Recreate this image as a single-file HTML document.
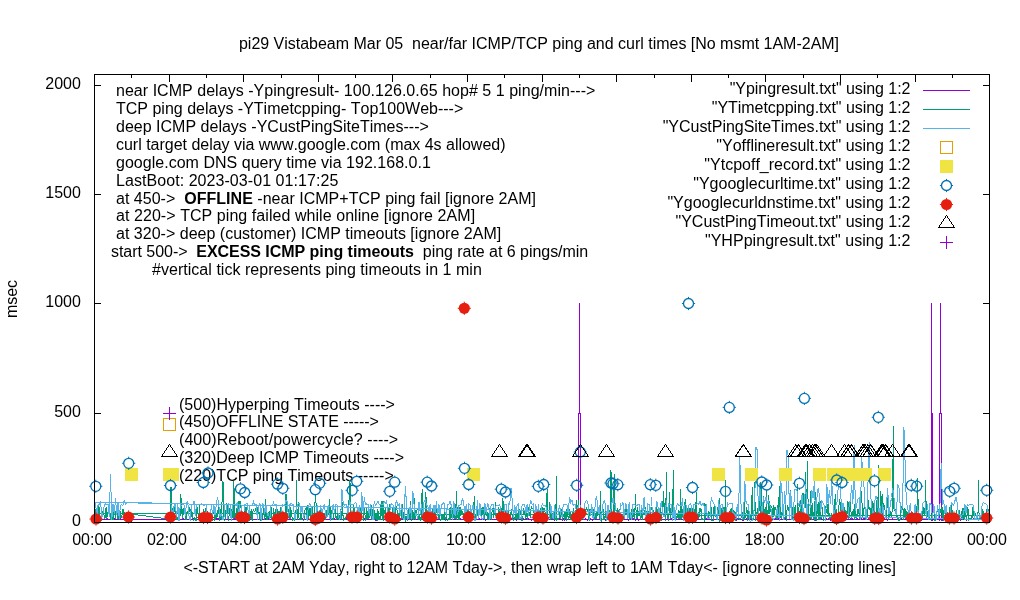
<!DOCTYPE html>
<html><head><meta charset="utf-8"><title>plot</title>
<style>html,body{margin:0;padding:0;background:#fff}svg{display:block;will-change:transform}text{font-family:"Liberation Sans",sans-serif;font-kerning:none;font-variant-ligatures:none}</style>
</head><body>
<svg width="1020" height="600" viewBox="0 0 1020 600" font-family="Liberation Sans, sans-serif" font-size="16" fill="#000">
<rect width="1020" height="600" fill="#fff"/>
<text id="t1" x="539" y="49" text-anchor="middle" textLength="600.09" xml:space="preserve">pi29 Vistabeam Mar 05 &#160;near/far ICMP/TCP ping and curl times [No msmt 1AM-2AM]</text>
<text id="t2" x="116" y="96" text-anchor="start" textLength="479.36" xml:space="preserve">near ICMP delays -Ypingresult- 100.126.0.65 hop# 5 1 ping/min---&gt;</text>
<text id="t3" x="116" y="114" text-anchor="start" xml:space="preserve">TCP ping delays -YTimetcpping- Top100Web---&gt;</text>
<text id="t4" x="116" y="132" text-anchor="start" textLength="312.86" xml:space="preserve">deep ICMP delays -YCustPingSiteTimes---&gt;</text>
<text id="t5" x="116" y="150" text-anchor="start" textLength="389.49" xml:space="preserve">curl target delay via www.google.com (max 4s allowed)</text>
<text id="t6" x="116" y="168" text-anchor="start" textLength="314.85" xml:space="preserve">google.com DNS query time via 192.168.0.1</text>
<text id="t7" x="116" y="186" text-anchor="start" textLength="222.32" xml:space="preserve">LastBoot: 2023-03-01 01:17:25</text>
<text id="t8" x="116" y="204" text-anchor="start" textLength="419.93" xml:space="preserve">at 450-&gt; &#160;<tspan font-weight="bold">OFFLINE</tspan> -near ICMP+TCP ping fail [ignore 2AM]</text>
<text id="t9" x="116" y="221" text-anchor="start" textLength="359.10" xml:space="preserve">at 220-&gt; TCP ping failed while online [ignore 2AM]</text>
<text id="t10" x="116" y="239" text-anchor="start" textLength="385.21" xml:space="preserve">at 320-&gt; deep (customer) ICMP timeouts [ignore 2AM]</text>
<text id="t11" x="111" y="257" text-anchor="start" textLength="477.23" xml:space="preserve">start 500-&gt; &#160;<tspan font-weight="bold">EXCESS ICMP ping timeouts</tspan> &#160;ping rate at 6 pings/min</text>
<text id="t12" x="152" y="275" text-anchor="start" textLength="329.84" xml:space="preserve">#vertical tick represents ping timeouts in 1 min</text>
<text id="t13" x="179" y="410" text-anchor="start" textLength="215.93" xml:space="preserve">(500)Hyperping Timeouts ----&gt;</text>
<text id="t14" x="179" y="427" text-anchor="start" textLength="199.96" xml:space="preserve">(450)OFFLINE STATE -----&gt;</text>
<text id="t15" x="179" y="445" text-anchor="start" textLength="219.12" xml:space="preserve">(400)Reboot/powercycle? ----&gt;</text>
<text id="t16" x="179" y="463" text-anchor="start" textLength="224.99" xml:space="preserve">(320)Deep ICMP Timeouts ----&gt;</text>
<text id="t17" x="179" y="481" text-anchor="start" textLength="214.73" xml:space="preserve">(220)TCP ping Timeouts -----&gt;</text>
<text id="t18" x="92.2" y="545" text-anchor="middle" >00:00</text>
<text id="t19" x="167.0" y="545" text-anchor="middle" >02:00</text>
<text id="t20" x="241.0" y="545" text-anchor="middle" >04:00</text>
<text id="t21" x="315.8" y="545" text-anchor="middle" >06:00</text>
<text id="t22" x="390.2" y="545" text-anchor="middle" >08:00</text>
<text id="t23" x="465.9" y="545" text-anchor="middle" >10:00</text>
<text id="t24" x="541.1" y="545" text-anchor="middle" >12:00</text>
<text id="t25" x="615.0" y="545" text-anchor="middle" >14:00</text>
<text id="t26" x="690.2" y="545" text-anchor="middle" >16:00</text>
<text id="t27" x="764.4" y="545" text-anchor="middle" >18:00</text>
<text id="t28" x="839.0" y="545" text-anchor="middle" >20:00</text>
<text id="t29" x="912.9" y="545" text-anchor="middle" >22:00</text>
<text id="t30" x="986.9" y="545" text-anchor="middle" >00:00</text>
<text id="t31" x="80.9" y="525.8" text-anchor="end" >0</text>
<text id="t32" x="80.9" y="417.0" text-anchor="end" >500</text>
<text id="t33" x="80.9" y="307.0" text-anchor="end" >1000</text>
<text id="t34" x="80.9" y="198.1" text-anchor="end" >1500</text>
<text id="t35" x="80.9" y="88.9" text-anchor="end" >2000</text>
<text transform="translate(17.2,299) rotate(-90)" text-anchor="middle">msec</text>
<text id="t36" x="183.5" y="573" text-anchor="start" textLength="323.2" >&lt;-START at 2AM Yday, right to 12AM Tday-&gt;,</text>
<text id="t37" x="510.9" y="573" text-anchor="start" textLength="385" >then wrap left to 1AM Tday&lt;- [ignore connecting lines]</text>
<text id="t38" x="910.5" y="94" text-anchor="end" textLength="180.82" >"Ypingresult.txt" using 1:2</text>
<text id="t39" x="910.5" y="113" text-anchor="end" textLength="198.71" >"YTimetcpping.txt" using 1:2</text>
<text id="t40" x="910.5" y="132" text-anchor="end" textLength="247.80" >"YCustPingSiteTimes.txt" using 1:2</text>
<text id="t41" x="910.5" y="151" text-anchor="end" textLength="194.18" >"Yofflineresult.txt" using 1:2</text>
<text id="t42" x="910.5" y="170" text-anchor="end" >"Ytcpoff_record.txt" using 1:2</text>
<text id="t43" x="910.5" y="189" text-anchor="end" textLength="217.31" >"Ygooglecurltime.txt" using 1:2</text>
<text id="t44" x="910.5" y="208" text-anchor="end" textLength="243.11" >"Ygooglecurldnstime.txt" using 1:2</text>
<text id="t45" x="910.5" y="227" text-anchor="end" textLength="234.97" >"YCustPingTimeout.txt" using 1:2</text>
<text id="t46" x="910.5" y="246" text-anchor="end" textLength="205.56" >"YHPpingresult.txt" using 1:2</text>
<g shape-rendering="crispEdges" fill="none" stroke="#000" stroke-width="1"><path d="M131.8 522.5v-3.5M131.8 74.5v3.5M169.1 522.5v-7M169.1 74.5v7M206.4 522.5v-3.5M206.4 74.5v3.5M243.7 522.5v-7M243.7 74.5v7M281.0 522.5v-3.5M281.0 74.5v3.5M318.3 522.5v-7M318.3 74.5v7M355.6 522.5v-3.5M355.6 74.5v3.5M392.9 522.5v-7M392.9 74.5v7M430.2 522.5v-3.5M430.2 74.5v3.5M467.5 522.5v-7M467.5 74.5v7M504.8 522.5v-3.5M504.8 74.5v3.5M542.1 522.5v-7M542.1 74.5v7M579.4 522.5v-3.5M579.4 74.5v3.5M616.7 522.5v-7M616.7 74.5v7M654.0 522.5v-3.5M654.0 74.5v3.5M691.3 522.5v-7M691.3 74.5v7M728.6 522.5v-3.5M728.6 74.5v3.5M765.9 522.5v-7M765.9 74.5v7M803.2 522.5v-3.5M803.2 74.5v3.5M840.5 522.5v-7M840.5 74.5v7M877.8 522.5v-3.5M877.8 74.5v3.5M915.1 522.5v-7M915.1 74.5v7M952.4 522.5v-3.5M952.4 74.5v3.5M94.5 413.5h6.5M989.5 413.5h-6.5M94.5 303.5h6.5M989.5 303.5h-6.5M94.5 194.5h6.5M989.5 194.5h-6.5M94.5 85.5h6.5M989.5 85.5h-6.5"/></g>
<g shape-rendering="crispEdges" fill="none" stroke-width="1">
<path d="M169.1 519.4L169.7 519.4L170.3 519.4L171.0 519.9L171.6 519.4L172.2 519.4L172.8 519.4L173.5 519.4L174.1 519.4L174.7 518.8L175.3 519.4L175.9 519.4L176.6 519.4L177.2 519.4L177.8 518.8L178.4 519.4L179.0 519.9L179.7 519.4L180.3 519.0L180.9 519.0L181.5 519.4L182.2 519.9L182.8 519.4L183.4 518.8L184.0 519.4L184.6 519.4L185.3 519.4L185.9 519.9L186.5 519.4L187.1 519.4L187.7 519.0L188.4 519.4L189.0 519.4L189.6 519.4L190.2 519.4L190.9 519.4L191.5 519.4L192.1 518.8L192.7 519.4L193.3 519.0L194.0 519.9L194.6 519.4L195.2 518.8L195.8 519.4L196.5 518.8L197.1 519.4L197.7 519.4L198.3 519.9L198.9 519.4L199.6 519.9L200.2 518.8L200.8 519.4L201.4 519.4L202.0 519.9L202.7 519.9L203.3 519.4L203.9 519.4L204.5 519.4L205.2 519.4L205.8 519.9L206.4 519.9L207.0 519.9L207.6 519.0L208.3 519.0L208.9 519.4L209.5 519.4L210.1 518.8L210.8 519.4L211.4 519.4L212.0 519.4L212.6 519.9L213.2 519.4L213.9 519.0L214.5 519.4L215.1 519.9L215.7 518.8L216.3 518.8L217.0 518.8L217.6 518.8L218.2 519.0L218.8 518.8L219.5 519.4L220.1 518.8L220.7 519.4L221.3 519.4L221.9 519.4L222.6 519.4L223.2 519.9L223.8 519.9L224.4 519.4L225.0 519.9L225.7 519.4L226.3 519.9L226.9 519.9L227.5 519.9L228.2 519.9L228.8 519.9L229.4 519.4L230.0 518.8L230.6 519.4L231.3 519.4L231.9 518.8L232.5 519.9L233.1 519.9L233.8 519.9L234.4 519.0L235.0 519.4L235.6 519.4L236.2 519.4L236.9 519.9L237.5 519.9L238.1 519.9L238.7 519.4L239.3 519.9L240.0 519.4L240.6 519.9L241.2 519.4L241.8 519.0L242.5 519.4L243.1 519.4L243.7 519.4L244.3 519.9L244.9 518.8L245.6 518.8L246.2 518.8L246.8 519.0L247.4 519.9L248.1 519.4L248.7 519.9L249.3 519.9L249.9 518.8L250.5 519.4L251.2 519.9L251.8 519.0L252.4 519.9L253.0 519.0L253.6 519.4L254.3 519.9L254.9 519.9L255.5 519.4L256.1 519.9L256.8 519.4L257.4 519.0L258.0 519.9L258.6 519.0L259.2 518.8L259.9 519.4L260.5 519.9L261.1 519.4L261.7 519.4L262.3 519.4L263.0 519.4L263.6 519.4L264.2 519.4L264.8 519.4L265.5 519.0L266.1 519.4L266.7 519.4L267.3 519.4L267.9 519.9L268.6 519.0L269.2 519.4L269.8 519.4L270.4 519.4L271.1 519.4L271.7 519.4L272.3 519.9L272.9 519.4L273.5 519.4L274.2 518.8L274.8 519.9L275.4 519.9L276.0 519.4L276.6 519.4L277.3 519.4L277.9 519.0L278.5 519.4L279.1 519.4L279.8 519.4L280.4 519.4L281.0 519.4L281.6 519.4L282.2 519.4L282.9 519.9L283.5 519.4L284.1 519.4L284.7 518.8L285.4 519.4L286.0 519.4L286.6 519.4L287.2 519.4L287.8 519.9L288.5 519.4L289.1 519.9L289.7 519.4L290.3 519.9L290.9 519.9L291.6 519.9L292.2 519.9L292.8 519.0L293.4 518.8L294.1 519.4L294.7 518.8L295.3 519.4L295.9 519.4L296.5 519.4L297.2 519.4L297.8 519.4L298.4 519.9L299.0 519.4L299.6 518.8L300.3 519.4L300.9 518.8L301.5 519.4L302.1 518.8L302.8 518.8L303.4 519.4L304.0 519.9L304.6 519.9L305.2 519.4L305.9 519.4L306.5 519.4L307.1 518.8L307.7 519.4L308.4 519.9L309.0 519.4L309.6 519.4L310.2 519.4L310.8 519.9L311.5 519.9L312.1 519.4L312.7 519.9L313.3 519.9L313.9 519.9L314.6 518.8L315.2 519.4L315.8 519.9L316.4 519.9L317.1 519.4L317.7 519.0L318.3 519.4L318.9 519.4L319.5 519.9L320.2 519.9L320.8 519.0L321.4 519.9L322.0 519.4L322.7 518.8L323.3 519.0L323.9 519.4L324.5 518.8L325.1 519.4L325.8 519.4L326.4 519.9L327.0 519.4L327.6 519.9L328.2 519.0L328.9 519.9L329.5 519.4L330.1 519.4L330.7 519.4L331.4 519.4L332.0 519.9L332.6 519.0L333.2 519.4L333.8 519.9L334.5 518.8L335.1 519.0L335.7 519.4L336.3 518.8L336.9 519.9L337.6 519.4L338.2 519.4L338.8 518.8L339.4 519.0L340.1 519.4L340.7 519.4L341.3 519.0L341.9 519.0L342.5 519.9L343.2 519.4L343.8 519.9L344.4 519.0L345.0 518.8L345.7 519.9L346.3 519.9L346.9 518.8L347.5 519.4L348.1 519.4L348.8 519.4L349.4 519.0L350.0 519.4L350.6 519.4L351.2 519.9L351.9 519.9L352.5 519.4L353.1 519.0L353.7 519.4L354.4 518.8L355.0 518.8L355.6 519.4L356.2 519.4L356.8 519.4L357.5 519.4L358.1 519.4L358.7 518.8L359.3 518.8L360.0 519.4L360.6 519.0L361.2 519.9L361.8 519.4L362.4 519.4L363.1 519.4L363.7 519.4L364.3 519.0L364.9 519.9L365.5 519.4L366.2 519.4L366.8 519.4L367.4 518.8L368.0 519.4L368.7 519.0L369.3 519.0L369.9 519.4L370.5 519.4L371.1 519.4L371.8 519.0L372.4 519.4L373.0 519.9L373.6 518.8L374.2 519.4L374.9 519.4L375.5 519.9L376.1 518.8L376.7 519.9L377.4 519.4L378.0 519.9L378.6 519.4L379.2 518.8L379.8 518.8L380.5 519.4L381.1 519.0L381.7 519.4L382.3 519.4L383.0 519.9L383.6 519.9L384.2 519.4L384.8 519.4L385.4 518.8L386.1 518.8L386.7 518.8L387.3 519.0L387.9 519.9L388.5 519.4L389.2 518.8L389.8 519.9L390.4 519.4L391.0 519.9L391.7 519.4L392.3 519.9L392.9 519.9L393.5 519.4L394.1 519.4L394.8 518.8L395.4 519.0L396.0 519.9L396.6 519.9L397.3 519.4L397.9 519.9L398.5 519.4L399.1 519.9L399.7 519.4L400.4 518.8L401.0 519.4L401.6 519.0L402.2 518.8L402.8 519.9L403.5 519.9L404.1 518.8L404.7 519.4L405.3 519.4L406.0 519.9L406.6 519.4L407.2 519.4L407.8 519.0L408.4 519.0L409.1 519.4L409.7 519.4L410.3 519.9L410.9 519.4L411.6 519.4L412.2 519.4L412.8 519.4L413.4 519.4L414.0 519.4L414.7 519.4L415.3 519.0L415.9 519.4L416.5 519.4L417.1 519.4L417.8 519.0L418.4 519.4L419.0 519.9L419.6 519.4L420.3 519.0L420.9 519.9L421.5 519.4L422.1 519.9L422.7 519.9L423.4 519.4L424.0 519.4L424.6 519.4L425.2 519.4L425.8 519.4L426.5 519.4L427.1 519.4L427.7 519.4L428.3 519.0L429.0 519.9L429.6 519.9L430.2 519.9L430.8 519.4L431.4 519.4L432.1 519.9L432.7 519.4L433.3 519.0L433.9 519.4L434.6 519.9L435.2 519.9L435.8 519.4L436.4 519.4L437.0 519.4L437.7 519.9L438.3 519.9L438.9 519.4L439.5 519.9L440.1 519.9L440.8 519.4L441.4 519.9L442.0 519.9L442.6 519.0L443.3 519.4L443.9 519.4L444.5 519.4L445.1 519.4L445.7 519.4L446.4 519.4L447.0 519.4L447.6 519.4L448.2 519.0L448.9 519.4L449.5 518.8L450.1 519.9L450.7 518.8L451.3 519.4L452.0 519.4L452.6 519.4L453.2 519.9L453.8 519.4L454.4 519.4L455.1 519.4L455.7 519.4L456.3 519.9L456.9 519.4L457.6 519.4L458.2 518.8L458.8 519.9L459.4 519.9L460.0 519.9L460.7 518.8L461.3 519.4L461.9 519.4L462.5 519.4L463.1 518.8L463.8 519.4L464.4 519.4L465.0 519.4L465.6 519.4L466.3 519.4L466.9 519.0L467.5 519.4L468.1 519.9L468.7 519.4L469.4 519.9L470.0 519.4L470.6 519.9L471.2 519.0L471.9 519.4L472.5 518.8L473.1 519.4L473.7 519.4L474.3 519.4L475.0 519.0L475.6 519.9L476.2 519.9L476.8 519.4L477.4 519.9L478.1 519.4L478.7 519.4L479.3 518.8L479.9 519.4L480.6 519.4L481.2 519.4L481.8 519.0L482.4 519.4L483.0 519.9L483.7 519.4L484.3 519.4L484.9 519.4L485.5 519.9L486.2 519.4L486.8 519.4L487.4 519.4L488.0 519.9L488.6 519.0L489.3 518.8L489.9 519.4L490.5 519.4L491.1 518.8L491.7 519.4L492.4 519.4L493.0 519.9L493.6 519.4L494.2 519.4L494.9 519.9L495.5 519.4L496.1 519.0L496.7 519.9L497.3 519.9L498.0 519.4L498.6 519.0L499.2 519.9L499.8 519.4L500.4 519.4L501.1 519.9L501.7 519.9L502.3 519.9L502.9 519.4L503.6 519.4L504.2 519.4L504.8 519.4L505.4 519.4L506.0 519.4L506.7 519.0L507.3 519.4L507.9 519.9L508.5 518.8L509.2 519.0L509.8 519.4L510.4 519.4L511.0 518.8L511.6 518.8L512.3 519.0L512.9 519.4L513.5 518.8L514.1 519.4L514.7 519.4L515.4 519.4L516.0 518.8L516.6 519.9L517.2 519.4L517.9 519.4L518.5 519.4L519.1 519.4L519.7 519.4L520.3 519.4L521.0 519.9L521.6 519.4L522.2 519.4L522.8 519.4L523.5 519.0L524.1 519.9L524.7 519.4L525.3 519.9L525.9 519.9L526.6 519.0L527.2 519.4L527.8 518.8L528.4 518.8L529.0 519.4L529.7 519.4L530.3 519.4L530.9 519.4L531.5 519.9L532.2 519.4L532.8 519.4L533.4 519.0L534.0 519.4L534.6 519.4L535.3 519.9L535.9 519.4L536.5 519.4L537.1 519.4L537.7 519.4L538.4 519.4L539.0 519.9L539.6 519.4L540.2 519.0L540.9 519.9L541.5 518.8L542.1 519.4L542.7 519.0L543.3 519.4L544.0 518.8L544.6 519.9L545.2 519.4L545.8 519.9L546.5 519.9L547.1 519.4L547.7 519.0L548.3 519.4L548.9 519.4L549.6 519.9L550.2 519.9L550.8 519.4L551.4 519.4L552.0 519.0L552.7 519.0L553.3 519.4L553.9 518.8L554.5 519.9L555.2 518.8L555.8 519.4L556.4 519.9L557.0 519.0L557.6 519.0L558.3 519.9L558.9 519.4L559.5 519.0L560.1 518.8L560.8 519.9L561.4 519.4L562.0 518.8L562.6 519.9L563.2 519.0L563.9 518.8L564.5 519.9L565.1 519.4L565.7 519.9L566.3 519.4L567.0 519.4L567.6 519.9L568.2 519.0L568.8 519.9L569.5 519.4L570.1 519.0L570.7 519.4L571.3 519.9L571.9 519.9L572.6 519.9L573.2 519.4L573.8 519.9L574.4 519.0L575.0 519.4L575.7 519.9L576.3 519.9L576.9 518.8L577.5 519.4L578.2 519.4L578.8 518.8L579.4 519.4L580.0 519.9L580.6 519.4L581.3 519.0L581.9 518.8L582.5 519.4L583.1 519.4L583.8 519.9L584.4 519.9L585.0 518.8L585.6 519.0L586.2 519.9L586.9 519.4L587.5 519.9L588.1 519.4L588.7 519.4L589.3 519.4L590.0 519.9L590.6 519.0L591.2 519.4L591.8 519.4L592.5 519.9L593.1 519.4L593.7 519.4L594.3 519.4L594.9 519.9L595.6 519.9L596.2 519.4L596.8 519.4L597.4 519.9L598.1 519.4L598.7 519.4L599.3 519.0L599.9 518.8L600.5 519.9L601.2 519.0L601.8 519.4L602.4 519.9L603.0 519.9L603.6 519.4L604.3 519.9L604.9 519.4L605.5 519.9L606.1 519.4L606.8 519.9L607.4 519.9L608.0 519.4L608.6 519.4L609.2 519.4L609.9 519.4L610.5 519.4L611.1 519.4L611.7 519.0L612.3 519.4L613.0 519.4L613.6 519.4L614.2 519.4L614.8 518.8L615.5 519.9L616.1 519.4L616.7 519.4L617.3 519.9L617.9 519.4L618.6 518.8L619.2 519.4L619.8 519.4L620.4 519.4L621.1 518.8L621.7 519.0L622.3 519.9L622.9 519.9L623.5 519.4L624.2 519.4L624.8 519.4L625.4 519.9L626.0 519.9L626.6 519.4L627.3 519.9L627.9 519.4L628.5 519.9L629.1 519.4L629.8 519.9L630.4 519.4L631.0 519.0L631.6 519.0L632.2 518.8L632.9 518.8L633.5 518.8L634.1 519.4L634.7 519.4L635.4 519.9L636.0 518.8L636.6 519.4L637.2 519.4L637.8 518.8L638.5 519.9L639.1 519.4L639.7 519.4L640.3 519.0L640.9 518.8L641.6 519.4L642.2 519.0L642.8 518.8L643.4 519.4L644.1 519.4L644.7 519.4L645.3 519.4L645.9 519.4L646.5 519.4L647.2 519.9L647.8 519.4L648.4 519.9L649.0 519.9L649.6 518.8L650.3 519.0L650.9 519.9L651.5 519.9L652.1 519.4L652.8 519.4L653.4 518.8L654.0 519.4L654.6 519.9L655.2 519.0L655.9 519.4L656.5 519.4L657.1 519.9L657.7 519.9L658.4 519.9L659.0 519.0L659.6 519.0L660.2 519.4L660.8 519.9L661.5 519.4L662.1 519.9L662.7 519.9L663.3 519.4L663.9 519.9L664.6 519.4L665.2 519.9L665.8 519.4L666.4 519.9L667.1 519.4L667.7 519.9L668.3 519.4L668.9 519.9L669.5 519.4L670.2 519.4L670.8 519.4L671.4 518.8L672.0 519.9L672.7 519.9L673.3 519.0L673.9 519.4L674.5 519.4L675.1 518.8L675.8 519.4L676.4 519.9L677.0 519.4L677.6 519.4L678.2 519.9L678.9 519.4L679.5 519.9L680.1 519.9L680.7 519.4L681.4 518.8L682.0 518.8L682.6 519.4L683.2 519.4L683.8 519.4L684.5 519.4L685.1 519.4L685.7 519.0L686.3 519.4L686.9 519.4L687.6 519.9L688.2 519.0L688.8 519.4L689.4 518.8L690.1 519.4L690.7 519.4L691.3 519.0L691.9 519.0L692.5 519.0L693.2 519.4L693.8 519.4L694.4 518.8L695.0 519.9L695.7 519.4L696.3 519.9L696.9 518.8L697.5 518.8L698.1 519.4L698.8 519.4L699.4 519.4L700.0 519.4L700.6 519.4L701.2 519.4L701.9 519.0L702.5 519.4L703.1 519.4L703.7 519.4L704.4 519.4L705.0 519.4L705.6 518.8L706.2 519.4L706.8 518.8L707.5 519.4L708.1 519.4L708.7 519.4L709.3 519.9L710.0 519.9L710.6 519.4L711.2 519.4L711.8 519.9L712.4 519.9L713.1 519.4L713.7 519.4L714.3 519.4L714.9 519.4L715.5 519.4L716.2 519.4L716.8 519.0L717.4 519.0L718.0 519.0L718.7 519.4L719.3 519.4L719.9 518.8L720.5 519.0L721.1 519.4L721.8 519.4L722.4 519.0L723.0 519.4L723.6 519.0L724.2 519.4L724.9 518.8L725.5 519.4L726.1 519.9L726.7 518.8L727.4 519.9L728.0 518.8L728.6 519.4L729.2 519.4L729.8 519.0L730.5 519.0L731.1 519.4L731.7 519.4L732.3 519.0L733.0 519.9L733.6 519.4L734.2 519.4L734.8 519.4L735.4 519.4L736.1 518.8L736.7 519.9L737.3 518.8L737.9 519.9L738.5 518.8L739.2 519.4L739.8 519.9L740.4 519.9L741.0 519.4L741.7 519.4L742.3 519.9L742.9 518.8L743.5 519.9L744.1 519.4L744.8 519.4L745.4 519.9L746.0 519.4L746.6 518.8L747.3 519.4L747.9 519.4L748.5 519.4L749.1 519.9L749.7 519.4L750.4 519.0L751.0 519.0L751.6 519.9L752.2 519.4L752.8 518.8L753.5 519.0L754.1 519.9L754.7 519.4L755.3 519.9L756.0 519.9L756.6 519.4L757.2 519.0L757.8 519.0L758.4 519.4L759.1 519.4L759.7 519.4L760.3 519.0L760.9 519.4L761.5 519.9L762.2 518.8L762.8 519.9L763.4 519.9L764.0 519.4L764.7 519.4L765.3 519.4L765.9 519.9L766.5 519.4L767.1 519.4L767.8 519.9L768.4 519.4L769.0 519.9L769.6 519.9L770.3 519.0L770.9 519.4L771.5 519.4L772.1 519.4L772.7 519.4L773.4 519.4L774.0 518.8L774.6 519.4L775.2 518.8L775.8 518.8L776.5 519.4L777.1 519.4L777.7 519.4L778.3 518.8L779.0 519.4L779.6 519.4L780.2 519.9L780.8 519.4L781.4 519.0L782.1 519.4L782.7 519.4L783.3 519.9L783.9 519.9L784.6 519.4L785.2 518.8L785.8 519.4L786.4 519.4L787.0 519.0L787.7 519.4L788.3 519.0L788.9 519.4L789.5 519.4L790.1 519.4L790.8 519.4L791.4 519.4L792.0 519.4L792.6 519.4L793.3 519.0L793.9 519.0L794.5 519.4L795.1 519.0L795.7 518.8L796.4 519.4L797.0 519.0L797.6 519.4L798.2 519.0L798.8 518.8L799.5 519.4L800.1 519.9L800.7 519.4L801.3 519.9L802.0 519.4L802.6 519.4L803.2 519.4L803.8 519.4L804.4 519.9L805.1 519.4L805.7 518.8L806.3 518.8L806.9 519.4L807.6 519.4L808.2 519.4L808.8 519.9L809.4 519.4L810.0 519.9L810.7 519.9L811.3 519.9L811.9 519.9L812.5 519.4L813.1 519.0L813.8 519.9L814.4 519.4L815.0 518.8L815.6 519.9L816.3 518.8L816.9 519.0L817.5 519.4L818.1 519.9L818.7 519.9L819.4 519.4L820.0 519.4L820.6 519.4L821.2 518.8L821.9 519.4L822.5 519.4L823.1 519.4L823.7 519.9L824.3 519.9L825.0 519.4L825.6 519.4L826.2 519.0L826.8 518.8L827.4 519.4L828.1 519.4L828.7 518.8L829.3 519.4L829.9 519.0L830.6 519.9L831.2 519.4L831.8 519.4L832.4 519.9L833.0 519.4L833.7 519.0L834.3 519.4L834.9 519.9L835.5 518.8L836.1 519.9L836.8 519.4L837.4 519.9L838.0 519.4L838.6 519.4L839.3 519.4L839.9 519.4L840.5 519.0L841.1 519.4L841.7 519.0L842.4 519.0L843.0 519.4L843.6 519.4L844.2 519.4L844.9 519.4L845.5 519.0L846.1 519.4L846.7 519.9L847.3 519.4L848.0 519.9L848.6 519.9L849.2 519.4L849.8 519.4L850.4 518.8L851.1 519.0L851.7 518.8L852.3 518.8L852.9 519.9L853.6 519.4L854.2 519.9L854.8 519.4L855.4 519.9L856.0 519.4L856.7 519.9L857.3 518.8L857.9 519.9L858.5 519.9L859.2 519.0L859.8 519.4L860.4 519.4L861.0 518.8L861.6 519.0L862.3 519.4L862.9 519.4L863.5 518.8L864.1 519.9L864.7 519.0L865.4 519.9L866.0 519.4L866.6 519.4L867.2 519.9L867.9 519.4L868.5 519.0L869.1 519.4L869.7 519.4L870.3 519.4L871.0 519.9L871.6 519.4L872.2 519.4L872.8 518.8L873.4 519.0L874.1 518.8L874.7 519.4L875.3 519.4L875.9 519.4L876.6 519.9L877.2 519.0L877.8 519.4L878.4 519.9L879.0 519.9L879.7 519.4L880.3 518.8L880.9 519.4L881.5 519.4L882.2 519.4L882.8 519.4L883.4 519.4L884.0 519.4L884.6 519.4L885.3 519.4L885.9 519.4L886.5 519.4L887.1 519.0L887.7 519.9L888.4 518.8L889.0 519.0L889.6 519.4L890.2 519.9L890.9 519.4L891.5 519.4L892.1 519.9L892.7 519.0L893.3 519.4L894.0 519.4L894.6 519.4L895.2 519.9L895.8 519.4L896.5 519.4L897.1 519.0L897.7 518.8L898.3 519.0L898.9 519.4L899.6 519.9L900.2 519.4L900.8 519.0L901.4 518.8L902.0 519.9L902.7 519.0L903.3 519.0L903.9 519.4L904.5 519.4L905.2 518.8L905.8 519.9L906.4 519.4L907.0 519.9L907.6 519.4L908.3 519.9L908.9 519.0L909.5 519.0L910.1 519.9L910.7 519.4L911.4 519.9L912.0 519.0L912.6 519.4L913.2 519.9L913.9 518.8L914.5 519.0L915.1 519.4L915.7 519.4L916.3 519.4L917.0 519.4L917.6 519.4L918.2 519.0L918.8 519.4L919.5 519.9L920.1 519.0L920.7 519.4L921.3 519.9L921.9 518.8L922.6 519.4L923.2 519.4L923.8 519.0L924.4 519.4L925.0 519.4L925.7 518.8L926.3 519.9L926.9 519.4L927.5 519.4L928.2 519.9L928.8 519.9L929.4 519.9L930.0 519.4L930.6 519.9L931.3 519.0L931.9 519.9L932.5 519.9L933.1 519.9L933.8 519.4L934.4 519.9L935.0 519.4L935.6 519.9L936.2 518.8L936.9 519.4L937.5 519.4L938.1 519.4L938.7 519.4L939.3 519.4L940.0 519.9L940.6 519.0L941.2 518.8L941.8 518.8L942.5 519.9L943.1 519.0L943.7 519.9L944.3 519.4L944.9 519.4L945.6 519.4L946.2 519.4L946.8 519.4L947.4 519.4L948.0 518.8L948.7 519.9L949.3 519.4L949.9 519.4L950.5 519.4L951.2 519.4L951.8 519.9L952.4 519.0L953.0 519.0L953.6 519.4L954.3 519.0L954.9 519.4L955.5 519.9L956.1 519.4L956.8 519.9L957.4 519.4L958.0 519.9L958.6 518.8L959.2 519.4L959.9 518.8L960.5 519.9L961.1 519.4L961.7 519.4L962.3 519.4L963.0 519.9L963.6 519.0L964.2 519.4L964.8 519.4L965.5 519.4L966.1 518.8L966.7 519.9L967.3 519.4L967.9 519.4L968.6 518.8L969.2 519.0L969.8 519.4L970.4 519.4L971.0 519.9L971.7 519.4L972.3 519.4L972.9 519.4L973.5 518.8L974.2 519.4L974.8 519.9L975.4 519.4L976.0 518.8L976.6 519.0L977.3 519.9L977.9 519.9L978.5 519.4L979.1 519.4L979.8 519.4L980.4 519.9L981.0 519.9L981.6 519.4L982.2 519.0L982.9 519.9L983.5 519.4L984.1 519.9L984.7 519.4L985.3 519.4L986.0 519.9L986.6 519.0L987.2 519.0L987.8 519.0L95.6 519.9L96.2 518.8L96.9 518.8L97.5 518.8L98.1 518.8L98.7 519.9L99.3 519.4L100.0 519.4L100.6 519.4L101.2 519.4L101.8 519.4L102.5 519.4L103.1 519.4L103.7 519.4L104.3 518.8L104.9 519.9L105.6 519.4L106.2 519.9L106.8 518.8L107.4 518.8L108.1 519.4L108.7 519.4L109.3 519.4L109.9 519.4L110.5 518.8L111.2 519.4L111.8 519.4L112.4 518.8L113.0 519.4L113.6 519.4L114.3 518.8L114.9 519.9L115.5 519.4L116.1 519.9L116.8 519.4L117.4 519.4L118.0 519.4L118.6 519.9L119.2 519.4L119.9 519.9L120.5 519.0L121.1 518.8L121.7 519.9L122.4 519.9L123.0 519.4L123.6 519.4L124.2 519.9L124.8 519.4L125.5 519.9L126.1 519.4" stroke="#9400d3" stroke-width="1"/>
<path d="M578.5 520.8V413.2H579.5V303.4V413.2H580.5V520.8M931.5 520.8V303.4M932.5 520.8V413.2M939.5 520.8V413.2H940.5V303.4V413.2H941.5V520.8" stroke="#9400d3"/>
<path d="M169.1 520.4L169.7 515.3L170.3 512.6L171.0 486.7L171.6 488.7L172.2 520.5L172.8 508.4L173.5 520.2L174.1 507.2L174.7 512.3L175.3 506.4L175.9 513.3L176.6 520.4L177.2 518.6L177.8 519.2L178.4 512.5L179.0 515.4L179.7 520.2L180.3 512.0L180.9 494.2L181.5 513.2L182.2 509.5L182.8 519.2L183.4 507.9L184.0 513.3L184.6 505.7L185.3 518.8L185.9 519.5L186.5 519.0L187.1 510.7L187.7 513.1L188.4 510.5L189.0 511.8L189.6 507.3L190.2 509.8L190.9 518.9L191.5 506.8L192.1 513.3L192.7 519.0L193.3 519.5L194.0 520.4L194.6 518.7L195.2 520.1L195.8 518.5L196.5 519.6L197.1 507.8L197.7 508.0L198.3 519.7L198.9 518.4L199.6 505.4L200.2 520.1L200.8 519.5L201.4 513.5L202.0 519.7L202.7 519.3L203.3 509.6L203.9 510.3L204.5 515.4L205.2 508.8L205.8 508.6L206.4 519.7L207.0 519.1L207.6 520.6L208.3 520.3L208.9 520.6L209.5 520.4L210.1 519.8L210.8 518.5L211.4 514.6L212.0 519.8L212.6 520.4L213.2 506.8L213.9 511.5L214.5 520.5L215.1 520.1L215.7 514.5L216.3 518.3L217.0 514.6L217.6 515.7L218.2 507.0L218.8 509.6L219.5 519.8L220.1 518.7L220.7 508.8L221.3 520.2L221.9 506.9L222.6 480.8L223.2 482.8L223.8 519.4L224.4 520.7L225.0 520.0L225.7 518.9L226.3 502.9L226.9 506.9L227.5 503.6L228.2 520.2L228.8 520.2L229.4 507.7L230.0 511.5L230.6 508.6L231.3 519.0L231.9 508.8L232.5 511.6L233.1 518.7L233.8 480.8L234.4 503.3L235.0 518.3L235.6 514.4L236.2 520.4L236.9 508.5L237.5 518.6L238.1 501.0L238.7 519.3L239.3 520.7L240.0 501.1L240.6 507.4L241.2 507.9L241.8 514.0L242.5 520.0L243.1 519.2L243.7 519.7L244.3 518.4L244.9 519.5L245.6 507.6L246.2 507.5L246.8 511.1L247.4 515.8L248.1 514.3L248.7 518.7L249.3 519.5L249.9 510.8L250.5 519.4L251.2 508.7L251.8 519.3L252.4 520.0L253.0 511.3L253.6 509.0L254.3 511.9L254.9 511.3L255.5 509.6L256.1 511.0L256.8 507.3L257.4 507.9L258.0 513.6L258.6 507.3L259.2 514.7L259.9 519.6L260.5 520.1L261.1 519.0L261.7 507.7L262.3 518.9L263.0 514.6L263.6 507.1L264.2 518.3L264.8 519.5L265.5 499.5L266.1 519.6L266.7 512.8L267.3 519.9L267.9 515.8L268.6 511.9L269.2 519.9L269.8 511.2L270.4 518.2L271.1 507.0L271.7 520.1L272.3 518.7L272.9 520.4L273.5 507.6L274.2 513.6L274.8 518.3L275.4 509.5L276.0 520.6L276.6 512.0L277.3 518.3L277.9 508.6L278.5 518.5L279.1 518.5L279.8 512.8L280.4 507.4L281.0 520.4L281.6 513.8L282.2 520.3L282.9 520.2L283.5 520.0L284.1 513.3L284.7 514.3L285.4 520.7L286.0 494.0L286.6 510.9L287.2 519.5L287.8 515.0L288.5 512.0L289.1 508.3L289.7 519.4L290.3 506.9L290.9 518.6L291.6 510.1L292.2 519.8L292.8 520.4L293.4 518.8L294.1 520.3L294.7 518.5L295.3 509.8L295.9 520.1L296.5 480.0L297.2 519.6L297.8 518.2L298.4 502.0L299.0 518.2L299.6 519.8L300.3 519.8L300.9 511.3L301.5 519.4L302.1 520.1L302.8 519.7L303.4 520.7L304.0 520.1L304.6 511.1L305.2 509.9L305.9 507.9L306.5 519.9L307.1 505.5L307.7 510.0L308.4 518.6L309.0 510.2L309.6 508.5L310.2 519.4L310.8 508.3L311.5 508.4L312.1 507.7L312.7 509.6L313.3 520.7L313.9 519.8L314.6 518.6L315.2 494.0L315.8 496.0L316.4 515.9L317.1 509.1L317.7 511.0L318.3 515.3L318.9 513.6L319.5 520.1L320.2 514.1L320.8 507.0L321.4 512.4L322.0 509.7L322.7 510.3L323.3 515.2L323.9 520.1L324.5 513.1L325.1 515.8L325.8 520.0L326.4 509.6L327.0 513.3L327.6 511.7L328.2 514.9L328.9 514.1L329.5 498.6L330.1 519.5L330.7 507.1L331.4 513.5L332.0 518.3L332.6 519.2L333.2 519.4L333.8 514.7L334.5 511.3L335.1 509.5L335.7 518.4L336.3 515.7L336.9 519.5L337.6 513.2L338.2 519.8L338.8 518.5L339.4 518.8L340.1 514.8L340.7 509.4L341.3 513.3L341.9 519.7L342.5 501.6L343.2 519.6L343.8 520.6L344.4 518.6L345.0 518.3L345.7 520.1L346.3 514.2L346.9 518.2L347.5 508.5L348.1 507.6L348.8 510.9L349.4 480.0L350.0 482.0L350.6 510.0L351.2 520.6L351.9 514.8L352.5 512.8L353.1 518.8L353.7 504.5L354.4 513.2L355.0 512.3L355.6 520.3L356.2 518.4L356.8 513.9L357.5 506.8L358.1 514.7L358.7 520.5L359.3 520.5L360.0 520.1L360.6 507.8L361.2 512.2L361.8 519.4L362.4 519.9L363.1 520.0L363.7 505.7L364.3 510.2L364.9 514.0L365.5 520.1L366.2 519.6L366.8 508.2L367.4 515.7L368.0 518.9L368.7 511.6L369.3 515.9L369.9 518.3L370.5 508.1L371.1 504.6L371.8 520.3L372.4 509.7L373.0 509.3L373.6 508.9L374.2 510.9L374.9 518.7L375.5 518.3L376.1 513.2L376.7 520.1L377.4 509.5L378.0 520.6L378.6 510.6L379.2 520.2L379.8 515.8L380.5 519.5L381.1 501.1L381.7 511.6L382.3 520.1L383.0 500.6L383.6 520.7L384.2 509.7L384.8 513.6L385.4 507.4L386.1 520.7L386.7 519.6L387.3 514.1L387.9 509.2L388.5 514.1L389.2 504.0L389.8 513.8L390.4 518.8L391.0 518.3L391.7 514.2L392.3 519.7L392.9 507.2L393.5 519.7L394.1 518.2L394.8 520.6L395.4 519.7L396.0 507.8L396.6 506.8L397.3 512.9L397.9 518.3L398.5 515.6L399.1 512.5L399.7 519.9L400.4 520.7L401.0 519.8L401.6 505.7L402.2 504.9L402.8 518.6L403.5 512.0L404.1 519.5L404.7 518.3L405.3 519.8L406.0 515.7L406.6 518.6L407.2 515.6L407.8 520.6L408.4 513.6L409.1 507.7L409.7 520.0L410.3 501.4L410.9 518.9L411.6 520.0L412.2 518.8L412.8 510.1L413.4 515.7L414.0 519.5L414.7 498.4L415.3 520.1L415.9 511.4L416.5 514.3L417.1 509.2L417.8 508.8L418.4 512.9L419.0 519.8L419.6 515.2L420.3 518.8L420.9 520.6L421.5 519.3L422.1 489.2L422.7 506.9L423.4 520.5L424.0 519.4L424.6 511.8L425.2 519.7L425.8 491.7L426.5 508.2L427.1 514.8L427.7 513.2L428.3 512.5L429.0 514.1L429.6 520.1L430.2 518.4L430.8 512.9L431.4 518.1L432.1 513.8L432.7 509.9L433.3 505.9L433.9 508.4L434.6 507.5L435.2 520.0L435.8 520.3L436.4 501.7L437.0 512.5L437.7 511.8L438.3 518.7L438.9 515.0L439.5 510.3L440.1 519.8L440.8 520.2L441.4 519.2L442.0 514.1L442.6 519.9L443.3 514.2L443.9 520.2L444.5 510.9L445.1 520.5L445.7 519.3L446.4 515.1L447.0 518.9L447.6 520.0L448.2 518.3L448.9 519.3L449.5 519.7L450.1 506.8L450.7 520.2L451.3 514.1L452.0 518.4L452.6 508.4L453.2 518.4L453.8 514.4L454.4 519.3L455.1 507.6L455.7 519.1L456.3 491.3L456.9 520.0L457.6 507.4L458.2 519.5L458.8 507.1L459.4 520.4L460.0 507.0L460.7 515.5L461.3 512.4L461.9 510.2L462.5 514.5L463.1 513.9L463.8 518.5L464.4 514.3L465.0 519.7L465.6 512.4L466.3 520.1L466.9 507.7L467.5 519.3L468.1 515.6L468.7 514.9L469.4 510.9L470.0 513.1L470.6 510.6L471.2 509.9L471.9 511.9L472.5 519.1L473.1 513.8L473.7 508.8L474.3 496.3L475.0 515.0L475.6 519.6L476.2 519.6L476.8 515.6L477.4 515.2L478.1 508.8L478.7 515.4L479.3 512.5L479.9 514.7L480.6 506.8L481.2 508.5L481.8 518.2L482.4 507.2L483.0 514.4L483.7 507.4L484.3 519.8L484.9 514.5L485.5 513.4L486.2 514.6L486.8 507.5L487.4 520.1L488.0 513.0L488.6 520.3L489.3 518.3L489.9 507.7L490.5 518.7L491.1 519.4L491.7 512.6L492.4 510.8L493.0 507.8L493.6 518.1L494.2 512.3L494.9 513.5L495.5 501.7L496.1 518.7L496.7 514.3L497.3 515.5L498.0 513.6L498.6 506.9L499.2 509.8L499.8 520.7L500.4 520.4L501.1 512.0L501.7 507.7L502.3 520.2L502.9 498.0L503.6 519.8L504.2 519.8L504.8 519.2L505.4 514.1L506.0 511.6L506.7 518.3L507.3 520.4L507.9 519.1L508.5 508.8L509.2 520.1L509.8 519.1L510.4 512.7L511.0 511.9L511.6 509.2L512.3 518.4L512.9 519.4L513.5 520.1L514.1 518.7L514.7 519.3L515.4 514.6L516.0 519.2L516.6 510.1L517.2 514.3L517.9 520.0L518.5 518.4L519.1 509.4L519.7 518.5L520.3 511.7L521.0 511.8L521.6 520.5L522.2 520.6L522.8 518.8L523.5 508.2L524.1 513.5L524.7 511.9L525.3 511.1L525.9 519.1L526.6 504.9L527.2 515.8L527.8 520.1L528.4 507.3L529.0 512.9L529.7 512.9L530.3 518.4L530.9 509.6L531.5 507.0L532.2 508.2L532.8 508.1L533.4 509.3L534.0 513.1L534.6 519.1L535.3 518.4L535.9 520.7L536.5 518.3L537.1 520.4L537.7 520.6L538.4 510.1L539.0 509.2L539.6 519.2L540.2 518.6L540.9 507.8L541.5 518.5L542.1 507.3L542.7 520.2L543.3 520.7L544.0 508.5L544.6 508.4L545.2 513.3L545.8 520.5L546.5 514.1L547.1 489.2L547.7 520.1L548.3 518.9L548.9 519.9L549.6 502.4L550.2 510.3L550.8 519.7L551.4 508.8L552.0 518.9L552.7 514.0L553.3 515.1L553.9 514.4L554.5 520.2L555.2 507.0L555.8 519.5L556.4 476.2L557.0 519.5L557.6 518.6L558.3 518.3L558.9 520.2L559.5 511.4L560.1 519.1L560.8 518.7L561.4 508.7L562.0 512.7L562.6 519.7L563.2 515.2L563.9 515.7L564.5 520.1L565.1 511.3L565.7 518.4L566.3 519.5L567.0 509.0L567.6 510.0L568.2 519.9L568.8 518.5L569.5 509.1L570.1 519.6L570.7 510.6L571.3 519.5L571.9 513.8L572.6 520.0L573.2 508.2L573.8 520.3L574.4 519.9L575.0 514.5L575.7 520.3L576.3 500.4L576.9 518.2L577.5 519.7L578.2 499.8L578.8 511.9L579.4 519.1L580.0 520.2L580.6 520.7L581.3 518.7L581.9 511.3L582.5 511.7L583.1 519.2L583.8 518.8L584.4 512.0L585.0 509.1L585.6 513.8L586.2 507.9L586.9 509.5L587.5 509.7L588.1 511.8L588.7 519.1L589.3 519.7L590.0 509.4L590.6 513.6L591.2 511.8L591.8 512.2L592.5 507.4L593.1 519.0L593.7 512.4L594.3 507.0L594.9 519.3L595.6 518.7L596.2 511.2L596.8 519.2L597.4 509.4L598.1 510.1L598.7 511.2L599.3 518.3L599.9 519.0L600.5 491.3L601.2 518.2L601.8 520.6L602.4 519.7L603.0 519.7L603.6 509.5L604.3 520.1L604.9 518.8L605.5 511.1L606.1 518.6L606.8 520.2L607.4 518.7L608.0 510.1L608.6 510.8L609.2 518.2L609.9 519.1L610.5 470.0L611.1 472.0L611.7 514.8L612.3 512.7L613.0 513.5L613.6 520.1L614.2 474.2L614.8 518.9L615.5 520.1L616.1 519.5L616.7 510.1L617.3 512.6L617.9 508.1L618.6 518.6L619.2 508.7L619.8 518.6L620.4 515.8L621.1 518.3L621.7 513.6L622.3 520.4L622.9 518.7L623.5 520.4L624.2 508.7L624.8 518.4L625.4 508.8L626.0 507.7L626.6 508.2L627.3 518.9L627.9 509.1L628.5 507.8L629.1 513.5L629.8 520.4L630.4 515.4L631.0 514.6L631.6 511.4L632.2 508.0L632.9 518.5L633.5 510.8L634.1 508.2L634.7 519.7L635.4 494.2L636.0 510.1L636.6 519.2L637.2 507.4L637.8 518.2L638.5 511.5L639.1 515.6L639.7 510.2L640.3 518.5L640.9 519.5L641.6 508.9L642.2 519.6L642.8 510.9L643.4 513.3L644.1 512.2L644.7 513.4L645.3 507.0L645.9 508.7L646.5 519.9L647.2 519.2L647.8 508.7L648.4 518.9L649.0 510.9L649.6 520.0L650.3 520.3L650.9 510.4L651.5 508.7L652.1 510.3L652.8 510.2L653.4 510.5L654.0 514.0L654.6 511.7L655.2 515.0L655.9 520.7L656.5 507.5L657.1 512.6L657.7 508.7L658.4 513.6L659.0 519.6L659.6 519.6L660.2 507.4L660.8 519.3L661.5 520.4L662.1 510.7L662.7 511.8L663.3 490.8L663.9 507.3L664.6 502.6L665.2 520.5L665.8 514.0L666.4 472.2L667.1 519.0L667.7 518.2L668.3 518.5L668.9 520.7L669.5 491.7L670.2 514.2L670.8 518.7L671.4 508.1L672.0 515.2L672.7 509.4L673.3 470.0L673.9 518.2L674.5 515.8L675.1 519.0L675.8 515.2L676.4 518.8L677.0 518.5L677.6 515.4L678.2 519.2L678.9 509.7L679.5 518.7L680.1 519.1L680.7 489.2L681.4 518.7L682.0 508.7L682.6 513.3L683.2 518.2L683.8 508.3L684.5 519.2L685.1 499.5L685.7 513.1L686.3 507.8L686.9 519.0L687.6 507.7L688.2 513.3L688.8 520.1L689.4 510.6L690.1 507.8L690.7 518.6L691.3 508.0L691.9 513.4L692.5 508.5L693.2 507.6L693.8 520.5L694.4 508.6L695.0 518.8L695.7 513.8L696.3 491.7L696.9 514.0L697.5 518.8L698.1 511.7L698.8 518.6L699.4 513.8L700.0 507.7L700.6 511.2L701.2 510.5L701.9 520.2L702.5 518.9L703.1 519.3L703.7 519.4L704.4 520.6L705.0 503.5L705.6 519.1L706.2 514.5L706.8 512.8L707.5 515.8L708.1 518.2L708.7 511.5L709.3 513.5L710.0 512.0L710.6 508.9L711.2 507.1L711.8 520.7L712.4 520.3L713.1 520.6L713.7 507.9L714.3 507.2L714.9 515.4L715.5 512.3L716.2 518.2L716.8 519.3L717.4 507.2L718.0 512.3L718.7 514.5L719.3 498.1L719.9 520.6L720.5 519.8L721.1 507.6L721.8 515.5L722.4 509.4L723.0 506.9L723.6 520.4L724.2 507.3L724.9 513.2L725.5 480.0L726.1 519.9L726.7 520.4L727.4 514.4L728.0 520.4L728.6 515.8L729.2 514.2L729.8 518.3L730.5 518.3L731.1 507.8L731.7 519.6L732.3 518.3L733.0 510.2L733.6 512.8L734.2 511.6L734.8 514.6L735.4 520.6L736.1 510.9L736.7 518.5L737.3 519.7L737.9 520.0L738.5 512.9L739.2 519.5L739.8 518.4L740.4 518.2L741.0 518.4L741.7 514.0L742.3 513.3L742.9 520.2L743.5 518.2L744.1 498.7L744.8 520.0L745.4 515.4L746.0 513.2L746.6 506.6L747.3 512.8L747.9 520.7L748.5 511.1L749.1 519.6L749.7 513.9L750.4 514.7L751.0 518.7L751.6 514.1L752.2 486.7L752.8 511.4L753.5 520.2L754.1 509.4L754.7 482.5L755.3 520.6L756.0 512.2L756.6 515.4L757.2 512.9L757.8 508.0L758.4 515.8L759.1 499.7L759.7 505.3L760.3 515.9L760.9 481.7L761.5 492.9L762.2 514.4L762.8 511.4L763.4 496.4L764.0 518.9L764.7 508.6L765.3 520.7L765.9 511.1L766.5 490.0L767.1 518.7L767.8 519.3L768.4 494.8L769.0 514.4L769.6 500.7L770.3 512.3L770.9 506.1L771.5 506.9L772.1 508.5L772.7 519.4L773.4 505.1L774.0 516.9L774.6 507.2L775.2 507.3L775.8 507.8L776.5 515.6L777.1 519.3L777.7 513.6L778.3 496.9L779.0 514.8L779.6 485.7L780.2 510.5L780.8 517.9L781.4 519.3L782.1 510.7L782.7 515.7L783.3 504.9L783.9 516.5L784.6 519.8L785.2 517.2L785.8 504.2L786.4 520.6L787.0 509.7L787.7 505.4L788.3 508.8L788.9 510.3L789.5 511.2L790.1 494.0L790.8 489.8L791.4 518.7L792.0 507.1L792.6 518.7L793.3 504.3L793.9 504.9L794.5 519.9L795.1 505.1L795.7 520.4L796.4 515.1L797.0 518.5L797.6 483.6L798.2 520.6L798.8 507.5L799.5 506.8L800.1 500.4L800.7 512.7L801.3 502.7L802.0 519.3L802.6 494.8L803.2 493.0L803.8 504.0L804.4 497.7L805.1 508.4L805.7 471.7L806.3 505.0L806.9 494.7L807.6 460.8L808.2 516.5L808.8 510.6L809.4 519.4L810.0 519.1L810.7 491.2L811.3 516.9L811.9 519.4L812.5 502.8L813.1 513.0L813.8 519.2L814.4 501.0L815.0 520.6L815.6 492.4L816.3 520.6L816.9 513.1L817.5 513.2L818.1 502.4L818.7 519.7L819.4 519.9L820.0 501.0L820.6 520.3L821.2 516.4L821.9 518.3L822.5 507.1L823.1 517.8L823.7 520.3L824.3 520.0L825.0 519.6L825.6 506.1L826.2 512.9L826.8 509.4L827.4 513.5L828.1 503.1L828.7 515.0L829.3 513.5L829.9 519.0L830.6 518.2L831.2 513.0L831.8 516.5L832.4 519.4L833.0 516.1L833.7 508.8L834.3 511.4L834.9 500.1L835.5 494.4L836.1 517.4L836.8 509.2L837.4 519.6L838.0 517.9L838.6 514.3L839.3 499.0L839.9 501.5L840.5 502.6L841.1 512.0L841.7 514.0L842.4 515.2L843.0 518.8L843.6 520.5L844.2 507.4L844.9 508.3L845.5 515.4L846.1 511.2L846.7 514.9L847.3 513.5L848.0 501.2L848.6 519.1L849.2 517.3L849.8 506.2L850.4 497.2L851.1 514.6L851.7 518.6L852.3 514.4L852.9 511.7L853.6 509.4L854.2 519.5L854.8 504.4L855.4 508.0L856.0 518.1L856.7 518.9L857.3 509.0L857.9 515.4L858.5 510.2L859.2 509.0L859.8 518.7L860.4 520.3L861.0 490.8L861.6 501.6L862.3 504.5L862.9 516.9L863.5 510.2L864.1 507.6L864.7 503.9L865.4 515.2L866.0 519.6L866.6 519.6L867.2 515.9L867.9 499.7L868.5 503.3L869.1 509.8L869.7 508.0L870.3 508.1L871.0 519.5L871.6 508.0L872.2 501.3L872.8 519.0L873.4 519.3L874.1 501.1L874.7 508.8L875.3 515.2L875.9 516.4L876.6 506.6L877.2 497.3L877.8 520.5L878.4 465.0L879.0 516.4L879.7 511.8L880.3 508.0L880.9 491.5L881.5 515.0L882.2 520.3L882.8 493.8L883.4 519.1L884.0 505.2L884.6 507.8L885.3 510.8L885.9 514.4L886.5 518.7L887.1 506.6L887.7 496.9L888.4 519.3L889.0 518.3L889.6 517.6L890.2 511.1L890.9 514.2L891.5 517.1L892.1 511.0L892.7 496.4L893.3 425.8L894.0 507.8L894.6 506.8L895.2 512.3L895.8 510.9L896.5 503.9L897.1 519.5L897.7 517.4L898.3 518.4L898.9 520.4L899.6 520.0L900.2 519.3L900.8 507.2L901.4 506.5L902.0 508.9L902.7 508.8L903.3 510.1L903.9 520.0L904.5 507.9L905.2 509.7L905.8 518.7L906.4 511.3L907.0 512.7L907.6 512.2L908.3 519.9L908.9 518.2L909.5 512.6L910.1 520.1L910.7 520.4L911.4 518.5L912.0 511.9L912.6 513.2L913.2 520.6L913.9 519.9L914.5 510.9L915.1 512.8L915.7 510.6L916.3 520.3L917.0 506.9L917.6 478.3L918.2 508.0L918.8 519.5L919.5 513.4L920.1 520.7L920.7 520.0L921.3 513.9L921.9 520.2L922.6 508.0L923.2 514.1L923.8 507.1L924.4 515.2L925.0 507.9L925.7 480.0L926.3 519.3L926.9 510.1L927.5 514.0L928.2 518.8L928.8 512.2L929.4 512.8L930.0 519.7L930.6 519.1L931.3 519.5L931.9 513.6L932.5 515.8L933.1 510.8L933.8 506.3L934.4 509.3L935.0 520.5L935.6 520.4L936.2 515.1L936.9 512.1L937.5 510.5L938.1 509.9L938.7 512.9L939.3 513.6L940.0 508.9L940.6 513.1L941.2 507.0L941.8 513.4L942.5 507.3L943.1 520.7L943.7 509.9L944.3 512.6L944.9 504.8L945.6 515.1L946.2 520.4L946.8 519.4L947.4 514.3L948.0 512.6L948.7 520.3L949.3 507.5L949.9 520.7L950.5 513.7L951.2 502.4L951.8 512.8L952.4 511.7L953.0 518.4L953.6 518.8L954.3 519.1L954.9 518.5L955.5 519.3L956.1 518.3L956.8 510.2L957.4 520.1L958.0 519.6L958.6 520.2L959.2 510.0L959.9 518.1L960.5 519.3L961.1 518.5L961.7 513.5L962.3 508.4L963.0 519.9L963.6 507.8L964.2 519.0L964.8 511.8L965.5 507.8L966.1 518.4L966.7 518.7L967.3 514.3L967.9 506.8L968.6 520.7L969.2 518.2L969.8 518.4L970.4 518.8L971.0 520.3L971.7 515.1L972.3 518.3L972.9 507.8L973.5 506.5L974.2 518.7L974.8 515.6L975.4 513.8L976.0 515.0L976.6 518.2L977.3 518.4L977.9 519.5L978.5 480.0L979.1 519.0L979.8 518.8L980.4 514.9L981.0 519.4L981.6 512.7L982.2 518.2L982.9 509.2L983.5 520.3L984.1 520.6L984.7 519.4L985.3 519.3L986.0 520.7L986.6 509.9L987.2 510.9L987.8 506.9L989.0 516.0L96.0 513.0L95.6 509.4L96.2 519.9L96.9 518.2L97.5 519.7L98.1 520.4L98.7 506.7L99.3 507.4L100.0 519.1L100.6 520.1L101.2 520.4L101.8 508.7L102.5 515.5L103.1 513.0L103.7 510.9L104.3 518.2L104.9 518.8L105.6 511.3L106.2 506.8L106.8 519.1L107.4 512.5L108.1 512.3L108.7 510.3L109.3 513.0L109.9 511.0L110.5 519.1L111.2 518.4L111.8 509.3L112.4 511.6L113.0 520.4L113.6 511.1L114.3 511.1L114.9 513.8L115.5 518.6L116.1 510.1L116.8 507.7L117.4 515.5L118.0 518.6L118.6 514.8L119.2 520.1L119.9 519.8L120.5 511.2L121.1 515.1L121.7 518.1L122.4 511.8L123.0 508.6L123.6 514.6L124.2 512.6L124.8 513.8L125.5 519.9L126.1 520.7L127.0 513.5L168.0 519.0" stroke="#009e73"/>
<path d="M169.1 516.4L170.3 519.8L171.6 505.1L172.8 519.3L174.1 505.5L175.3 504.0L176.6 517.7L177.8 504.5L179.0 521.0L180.3 504.9L181.5 505.1L182.8 504.4L184.0 505.0L185.3 516.3L186.5 503.0L187.7 501.2L189.0 515.6L190.2 520.8L191.5 504.9L192.7 504.7L194.0 501.1L195.2 516.2L196.5 504.8L197.7 504.9L198.9 503.9L200.2 504.7L201.4 504.0L202.7 504.2L203.9 505.6L205.2 504.6L206.4 504.2L207.6 519.5L208.9 514.3L210.1 520.6L211.4 504.6L212.6 515.5L213.9 504.7L215.1 515.4L216.3 504.5L217.6 497.0L218.8 505.4L220.1 516.9L221.3 512.8L222.6 519.1L223.8 519.2L225.0 504.6L226.3 504.8L227.5 518.7L228.8 504.1L230.0 505.2L231.3 521.0L232.5 504.9L233.8 504.7L235.0 504.9L236.2 505.3L237.5 501.8L238.7 518.7L240.0 504.9L241.2 505.0L242.5 514.4L243.7 515.2L244.9 504.5L246.2 503.8L247.4 503.9L248.7 517.6L249.9 505.6L251.2 505.5L252.4 505.3L253.6 501.7L254.9 504.7L256.1 504.3L257.4 519.6L258.6 505.4L259.9 503.0L261.1 520.6L262.3 503.8L263.6 504.4L264.8 513.5L266.1 505.4L267.3 515.3L268.6 514.1L269.8 519.4L271.1 505.0L272.3 505.4L273.5 502.6L274.8 505.4L276.0 503.7L277.3 521.1L278.5 515.8L279.8 516.6L281.0 517.3L282.2 504.8L283.5 505.4L284.7 505.4L286.0 500.2L287.2 501.9L288.5 518.4L289.7 504.7L290.9 503.4L292.2 504.0L293.4 504.6L294.7 520.2L295.9 513.6L297.2 505.2L298.4 503.6L299.6 503.8L300.9 513.1L302.1 505.6L303.4 517.5L304.6 514.9L305.9 514.5L307.1 520.8L308.4 505.5L309.6 504.1L310.8 504.8L312.1 516.9L313.3 515.8L314.6 516.4L315.8 518.1L317.1 505.3L318.3 513.2L319.5 514.0L320.8 504.7L322.0 520.6L323.3 505.4L324.5 504.6L325.8 517.3L327.0 516.7L328.2 504.9L329.5 517.9L330.7 520.3L332.0 513.8L333.2 503.9L334.5 513.2L335.7 504.1L336.9 504.3L338.2 514.8L339.4 519.1L340.7 518.0L341.9 489.0L343.2 503.4L344.4 505.2L345.7 504.1L346.9 505.5L348.1 516.2L349.4 500.0L350.6 504.3L351.9 505.0L353.1 504.8L354.4 503.7L355.6 502.3L356.8 505.5L358.1 515.0L359.3 505.4L360.6 520.2L361.8 492.5L363.1 512.9L364.3 497.1L365.5 504.7L366.8 503.9L368.0 504.4L369.3 515.9L370.5 504.1L371.8 515.1L373.0 520.0L374.2 501.3L375.5 505.4L376.7 503.8L378.0 501.1L379.2 504.1L380.5 504.8L381.7 504.1L383.0 505.1L384.2 501.8L385.4 503.3L386.7 500.9L387.9 514.1L389.2 519.7L390.4 505.2L391.7 503.9L392.9 504.3L394.1 514.6L395.4 504.3L396.6 500.8L397.9 505.5L399.1 504.0L400.4 516.2L401.6 504.1L402.8 517.1L404.1 520.4L405.3 486.3L406.6 504.8L407.8 519.5L409.1 514.0L410.3 505.1L411.6 519.0L412.8 490.8L414.0 504.1L415.3 515.4L416.5 514.2L417.8 519.0L419.0 502.4L420.3 513.6L421.5 503.9L422.7 517.0L424.0 501.9L425.2 499.5L426.5 505.3L427.7 505.7L429.0 513.1L430.2 504.1L431.4 518.3L432.7 516.6L433.9 504.7L435.2 513.3L436.4 501.4L437.7 516.0L438.9 503.8L440.1 515.6L441.4 504.9L442.6 504.3L443.9 502.0L445.1 512.9L446.4 514.1L447.6 504.6L448.9 504.2L450.1 501.2L451.3 505.6L452.6 520.2L453.8 500.6L455.1 516.3L456.3 505.6L457.6 514.9L458.8 505.1L460.0 505.1L461.3 504.8L462.5 497.6L463.8 504.3L465.0 513.0L466.3 504.3L467.5 520.0L468.7 504.0L470.0 505.0L471.2 516.9L472.5 505.3L473.7 505.3L475.0 520.9L476.2 518.1L477.4 500.3L478.7 518.7L479.9 503.0L481.2 517.6L482.4 519.1L483.7 518.0L484.9 502.8L486.2 513.5L487.4 504.0L488.6 504.1L489.9 520.1L491.1 504.7L492.4 504.3L493.6 505.1L494.9 513.4L496.1 505.1L497.3 505.2L498.6 505.6L499.8 504.6L501.1 513.2L502.3 519.3L503.6 516.6L504.8 504.3L506.0 504.1L507.3 518.7L508.5 503.8L509.8 504.3L511.0 488.3L512.3 501.1L513.5 518.0L514.7 505.0L516.0 513.8L517.2 504.6L518.5 503.9L519.7 518.4L521.0 517.8L522.2 504.0L523.5 504.5L524.7 504.5L525.9 514.0L527.2 504.0L528.4 515.5L529.7 504.7L530.9 500.6L532.2 504.1L533.4 503.9L534.6 515.3L535.9 504.5L537.1 520.8L538.4 504.0L539.6 519.5L540.9 520.6L542.1 503.7L543.3 505.0L544.6 505.5L545.8 505.0L547.1 515.9L548.3 519.0L549.6 517.5L550.8 504.1L552.0 514.2L553.3 519.4L554.5 505.0L555.8 516.4L557.0 514.5L558.3 514.1L559.5 504.6L560.8 514.6L562.0 517.0L563.2 505.5L564.5 504.2L565.7 504.9L567.0 504.5L568.2 513.8L569.5 497.0L570.7 502.5L571.9 499.9L573.2 505.4L574.4 504.3L575.7 504.8L576.9 519.7L578.2 505.1L579.4 515.0L580.6 504.8L581.9 515.3L583.1 519.1L584.4 504.3L585.6 501.1L586.9 500.5L588.1 504.3L589.3 519.6L590.6 513.9L591.8 504.4L593.1 518.3L594.3 515.9L595.6 499.0L596.8 496.7L598.1 513.5L599.3 504.8L600.5 520.5L601.8 514.6L603.0 503.7L604.3 500.9L605.5 504.1L606.8 520.5L608.0 504.7L609.2 519.2L610.5 513.5L611.7 503.8L613.0 498.5L614.2 504.9L615.5 504.0L616.7 521.3L617.9 516.3L619.2 521.3L620.4 504.1L621.7 505.6L622.9 501.8L624.2 518.6L625.4 503.9L626.6 504.4L627.9 519.3L629.1 502.4L630.4 516.2L631.6 519.7L632.9 504.5L634.1 504.3L635.4 505.5L636.6 505.6L637.8 504.9L639.1 504.3L640.3 515.7L641.6 504.7L642.8 513.5L644.1 497.0L645.3 512.8L646.5 518.0L647.8 504.0L649.0 504.2L650.3 520.6L651.5 497.0L652.8 521.0L654.0 513.3L655.2 515.5L656.5 501.5L657.7 502.8L659.0 521.2L660.2 505.5L661.5 501.2L662.7 514.4L663.9 516.9L665.2 514.5L666.4 500.5L667.7 514.0L668.9 504.1L670.2 504.4L671.4 504.1L672.7 520.9L673.9 505.1L675.1 521.3L676.4 505.6L677.6 504.1L678.9 505.4L680.1 505.3L681.4 505.5L682.6 498.1L683.8 520.6L685.1 504.0L686.3 505.5L687.6 518.8L688.8 505.4L690.1 503.7L691.3 505.7L692.5 520.4L693.8 504.5L695.0 504.8L696.3 504.5L697.5 503.9L698.8 504.1L700.0 500.8L701.2 505.6L702.5 504.0L703.7 503.9L705.0 513.2L706.2 504.3L707.5 518.8L708.7 518.6L710.0 517.5L711.2 497.6L712.4 501.0L713.7 503.7L714.9 505.1L716.2 517.8L717.4 519.4L718.7 500.5L719.9 514.7L721.1 503.9L722.4 504.6L723.6 514.2L724.9 515.9L726.1 516.7L727.4 503.1L728.6 504.4L729.8 503.8L731.1 503.9L732.3 503.8L733.6 519.6L734.8 513.5L736.1 519.1L737.3 503.7L738.5 517.6L739.8 456.7L741.0 504.2L742.3 519.2L743.5 515.4L744.8 480.8L746.0 501.5L747.3 504.4L748.5 504.3L749.7 520.8L751.0 521.3L752.2 520.2L753.5 517.1L754.7 501.3L756.0 446.7L757.2 450.0L758.4 517.8L759.7 483.4L760.9 505.4L762.2 513.9L763.4 496.9L764.7 503.1L765.9 496.6L767.1 504.2L768.4 499.8L769.6 505.4L770.9 507.6L772.1 518.2L773.4 519.2L774.6 518.1L775.8 517.9L777.1 508.5L778.3 515.6L779.6 520.6L780.8 480.8L782.1 493.4L783.3 519.6L784.6 491.4L785.8 504.6L787.0 450.0L788.3 456.7L789.5 518.6L790.8 491.3L792.0 519.6L793.3 520.4L794.5 490.1L795.7 489.3L797.0 490.6L798.2 505.4L799.5 501.1L800.7 509.0L802.0 494.7L803.2 515.2L804.4 504.5L805.7 483.4L806.9 517.2L808.2 502.0L809.4 505.2L810.7 507.7L811.9 490.4L813.1 498.1L814.4 480.8L815.6 517.4L816.9 498.4L818.1 488.3L819.4 494.4L820.6 512.1L821.9 501.4L823.1 502.8L824.3 505.6L825.6 520.6L826.8 483.7L828.1 504.1L829.3 490.2L830.6 504.1L831.8 481.5L833.0 505.3L834.3 516.9L835.5 505.5L836.8 504.7L838.0 490.3L839.3 483.3L840.5 485.1L841.7 517.8L843.0 502.9L844.2 515.6L845.5 517.8L846.7 518.7L848.0 516.3L849.2 505.0L850.4 499.9L851.7 485.4L852.9 504.0L854.2 445.0L855.4 510.6L856.7 504.5L857.9 498.9L859.2 497.6L860.4 519.9L861.6 456.3L862.9 474.6L864.1 488.3L865.4 515.2L866.6 520.0L867.9 485.9L869.1 442.0L870.3 492.6L871.6 504.9L872.8 514.4L874.1 510.5L875.3 497.0L876.6 496.1L877.8 505.5L879.0 516.5L880.3 505.6L881.5 518.9L882.8 504.5L884.0 518.7L885.3 517.6L886.5 504.3L887.7 488.5L889.0 513.9L890.2 505.4L891.5 497.5L892.7 487.8L894.0 497.5L895.2 512.4L896.5 515.0L897.7 485.0L898.9 486.6L900.2 505.1L901.4 512.8L902.7 503.2L903.9 426.7L905.2 465.8L906.4 504.2L907.6 505.5L908.9 520.6L910.1 503.5L911.4 514.7L912.6 520.5L913.9 520.0L915.1 504.0L916.3 519.9L917.6 504.8L918.8 520.3L920.1 512.9L921.3 519.1L922.6 503.9L923.8 502.0L925.0 501.6L926.3 517.3L927.5 504.2L928.8 519.7L930.0 503.3L931.3 505.0L932.5 519.2L933.8 503.7L935.0 513.9L936.2 519.9L937.5 505.0L938.7 517.7L940.0 504.0L941.2 463.3L942.5 504.5L943.7 500.4L944.9 514.0L946.2 505.1L947.4 518.1L948.7 518.1L949.9 519.4L951.2 502.3L952.4 503.9L953.6 505.2L954.9 500.9L956.1 497.3L957.4 504.1L958.6 515.7L959.9 514.1L961.1 516.7L962.3 514.2L963.6 514.0L964.8 503.9L966.1 513.2L967.3 504.3L968.6 505.6L969.8 504.6L971.0 505.0L972.3 504.1L973.5 505.2L974.8 519.2L976.0 518.5L977.3 514.4L978.5 520.8L979.8 514.9L981.0 517.4L982.2 504.1L983.5 502.6L984.7 503.9L986.0 503.9L987.2 505.1L989.0 519.5L96.0 502.2L95.6 504.5L96.9 516.3L98.1 504.6L99.3 504.8L100.6 501.4L101.8 518.2L103.1 513.0L104.3 505.4L105.6 503.6L106.8 504.8L108.1 504.8L109.3 516.8L110.5 474.2L111.8 519.5L113.0 504.1L114.3 513.7L115.5 498.5L116.8 515.2L118.0 503.0L119.2 518.5L120.5 505.3L121.7 504.7L123.0 505.4L124.2 500.2L125.5 504.1L127.0 502.3L169.0 503.5" stroke="#56b4e9"/>
<path d="M923 90.5H970" stroke="#9400d3"/><path d="M923 109.5H970" stroke="#009e73"/><path d="M923 128.5H970" stroke="#56b4e9"/>
</g>
<g shape-rendering="crispEdges">
<rect x="940.5" y="141.5" width="12" height="12" fill="none" stroke="#e69f00"/>
<rect x="163.5" y="418.5" width="12" height="12" fill="none" stroke="#e69f00"/>
<rect x="125.0" y="468.0" width="13" height="13" fill="#f0e442"/>
<rect x="163.0" y="468.0" width="13" height="13" fill="#f0e442"/>
<rect x="165.8" y="468.0" width="13" height="13" fill="#f0e442"/>
<rect x="467.1" y="468.0" width="13" height="13" fill="#f0e442"/>
<rect x="712.1" y="468.0" width="13" height="13" fill="#f0e442"/>
<rect x="745.0" y="468.0" width="13" height="13" fill="#f0e442"/>
<rect x="779.0" y="468.0" width="13" height="13" fill="#f0e442"/>
<rect x="812.9" y="468.0" width="13" height="13" fill="#f0e442"/>
<rect x="827.0" y="468.0" width="13" height="13" fill="#f0e442"/>
<rect x="830.2" y="468.0" width="13" height="13" fill="#f0e442"/>
<rect x="833.4" y="468.0" width="13" height="13" fill="#f0e442"/>
<rect x="836.6" y="468.0" width="13" height="13" fill="#f0e442"/>
<rect x="839.8" y="468.0" width="13" height="13" fill="#f0e442"/>
<rect x="843.0" y="468.0" width="13" height="13" fill="#f0e442"/>
<rect x="846.2" y="468.0" width="13" height="13" fill="#f0e442"/>
<rect x="849.4" y="468.0" width="13" height="13" fill="#f0e442"/>
<rect x="852.6" y="468.0" width="13" height="13" fill="#f0e442"/>
<rect x="855.8" y="468.0" width="13" height="13" fill="#f0e442"/>
<rect x="859.0" y="468.0" width="13" height="13" fill="#f0e442"/>
<rect x="878.0" y="468.0" width="13" height="13" fill="#f0e442"/>
<rect x="940.0" y="160.0" width="13" height="13" fill="#f0e442"/>
</g>
<g>
<path d="M89.2 486.3h1.4M101.0 486.3h1.4M95.8 479.7v1.4M95.8 491.5v1.4" stroke="#0072b2" stroke-width="1" fill="none"/><circle cx="95.8" cy="486.3" r="5.0" fill="none" stroke="#0072b2" stroke-width="1.3"/>
<path d="M122.1 463.3h1.4M133.9 463.3h1.4M128.7 456.7v1.4M128.7 468.5v1.4" stroke="#0072b2" stroke-width="1" fill="none"/><circle cx="128.7" cy="463.3" r="5.0" fill="none" stroke="#0072b2" stroke-width="1.3"/>
<path d="M163.9 485.5h1.4M175.7 485.5h1.4M170.5 478.9v1.4M170.5 490.7v1.4" stroke="#0072b2" stroke-width="1" fill="none"/><circle cx="170.5" cy="485.5" r="5.0" fill="none" stroke="#0072b2" stroke-width="1.3"/>
<path d="M196.7 482.5h1.4M208.5 482.5h1.4M203.3 475.9v1.4M203.3 487.7v1.4" stroke="#0072b2" stroke-width="1" fill="none"/><circle cx="203.3" cy="482.5" r="5.0" fill="none" stroke="#0072b2" stroke-width="1.3"/>
<path d="M201.4 473.0h1.4M213.2 473.0h1.4M208.0 466.4v1.4M208.0 478.2v1.4" stroke="#0072b2" stroke-width="1" fill="none"/><circle cx="208.0" cy="473.0" r="5.0" fill="none" stroke="#0072b2" stroke-width="1.3"/>
<path d="M233.9 488.8h1.4M245.7 488.8h1.4M240.5 482.2v1.4M240.5 494.0v1.4" stroke="#0072b2" stroke-width="1" fill="none"/><circle cx="240.5" cy="488.8" r="5.0" fill="none" stroke="#0072b2" stroke-width="1.3"/>
<path d="M238.1 492.5h1.4M249.9 492.5h1.4M244.7 485.9v1.4M244.7 497.7v1.4" stroke="#0072b2" stroke-width="1" fill="none"/><circle cx="244.7" cy="492.5" r="5.0" fill="none" stroke="#0072b2" stroke-width="1.3"/>
<path d="M270.9 484.2h1.4M282.7 484.2h1.4M277.5 477.6v1.4M277.5 489.4v1.4" stroke="#0072b2" stroke-width="1" fill="none"/><circle cx="277.5" cy="484.2" r="5.0" fill="none" stroke="#0072b2" stroke-width="1.3"/>
<path d="M276.2 488.3h1.4M288.0 488.3h1.4M282.8 481.7v1.4M282.8 493.5v1.4" stroke="#0072b2" stroke-width="1" fill="none"/><circle cx="282.8" cy="488.3" r="5.0" fill="none" stroke="#0072b2" stroke-width="1.3"/>
<path d="M308.7 489.7h1.4M320.5 489.7h1.4M315.3 483.1v1.4M315.3 494.9v1.4" stroke="#0072b2" stroke-width="1" fill="none"/><circle cx="315.3" cy="489.7" r="5.0" fill="none" stroke="#0072b2" stroke-width="1.3"/>
<path d="M313.1 483.3h1.4M324.9 483.3h1.4M319.7 476.7v1.4M319.7 488.5v1.4" stroke="#0072b2" stroke-width="1" fill="none"/><circle cx="319.7" cy="483.3" r="5.0" fill="none" stroke="#0072b2" stroke-width="1.3"/>
<path d="M345.6 490.3h1.4M357.4 490.3h1.4M352.2 483.7v1.4M352.2 495.5v1.4" stroke="#0072b2" stroke-width="1" fill="none"/><circle cx="352.2" cy="490.3" r="5.0" fill="none" stroke="#0072b2" stroke-width="1.3"/>
<path d="M350.1 481.3h1.4M361.9 481.3h1.4M356.7 474.7v1.4M356.7 486.5v1.4" stroke="#0072b2" stroke-width="1" fill="none"/><circle cx="356.7" cy="481.3" r="5.0" fill="none" stroke="#0072b2" stroke-width="1.3"/>
<path d="M383.1 491.3h1.4M394.9 491.3h1.4M389.7 484.7v1.4M389.7 496.5v1.4" stroke="#0072b2" stroke-width="1" fill="none"/><circle cx="389.7" cy="491.3" r="5.0" fill="none" stroke="#0072b2" stroke-width="1.3"/>
<path d="M388.1 482.2h1.4M399.9 482.2h1.4M394.7 475.6v1.4M394.7 487.4v1.4" stroke="#0072b2" stroke-width="1" fill="none"/><circle cx="394.7" cy="482.2" r="5.0" fill="none" stroke="#0072b2" stroke-width="1.3"/>
<path d="M420.6 482.2h1.4M432.4 482.2h1.4M427.2 475.6v1.4M427.2 487.4v1.4" stroke="#0072b2" stroke-width="1" fill="none"/><circle cx="427.2" cy="482.2" r="5.0" fill="none" stroke="#0072b2" stroke-width="1.3"/>
<path d="M424.9 486.0h1.4M436.7 486.0h1.4M431.5 479.4v1.4M431.5 491.2v1.4" stroke="#0072b2" stroke-width="1" fill="none"/><circle cx="431.5" cy="486.0" r="5.0" fill="none" stroke="#0072b2" stroke-width="1.3"/>
<path d="M457.9 468.3h1.4M469.7 468.3h1.4M464.5 461.7v1.4M464.5 473.5v1.4" stroke="#0072b2" stroke-width="1" fill="none"/><circle cx="464.5" cy="468.3" r="5.0" fill="none" stroke="#0072b2" stroke-width="1.3"/>
<path d="M462.1 484.5h1.4M473.9 484.5h1.4M468.7 477.9v1.4M468.7 489.7v1.4" stroke="#0072b2" stroke-width="1" fill="none"/><circle cx="468.7" cy="484.5" r="5.0" fill="none" stroke="#0072b2" stroke-width="1.3"/>
<path d="M494.7 489.2h1.4M506.5 489.2h1.4M501.3 482.6v1.4M501.3 494.4v1.4" stroke="#0072b2" stroke-width="1" fill="none"/><circle cx="501.3" cy="489.2" r="5.0" fill="none" stroke="#0072b2" stroke-width="1.3"/>
<path d="M498.9 492.0h1.4M510.7 492.0h1.4M505.5 485.4v1.4M505.5 497.2v1.4" stroke="#0072b2" stroke-width="1" fill="none"/><circle cx="505.5" cy="492.0" r="5.0" fill="none" stroke="#0072b2" stroke-width="1.3"/>
<path d="M531.7 486.3h1.4M543.5 486.3h1.4M538.3 479.7v1.4M538.3 491.5v1.4" stroke="#0072b2" stroke-width="1" fill="none"/><circle cx="538.3" cy="486.3" r="5.0" fill="none" stroke="#0072b2" stroke-width="1.3"/>
<path d="M537.1 484.5h1.4M548.9 484.5h1.4M543.7 477.9v1.4M543.7 489.7v1.4" stroke="#0072b2" stroke-width="1" fill="none"/><circle cx="543.7" cy="484.5" r="5.0" fill="none" stroke="#0072b2" stroke-width="1.3"/>
<path d="M570.1 485.3h1.4M581.9 485.3h1.4M576.7 478.7v1.4M576.7 490.5v1.4" stroke="#0072b2" stroke-width="1" fill="none"/><circle cx="576.7" cy="485.3" r="5.0" fill="none" stroke="#0072b2" stroke-width="1.3"/>
<path d="M573.7 452.0h1.4M585.5 452.0h1.4M580.3 445.4v1.4M580.3 457.2v1.4" stroke="#0072b2" stroke-width="1" fill="none"/><circle cx="580.3" cy="452.0" r="5.0" fill="none" stroke="#0072b2" stroke-width="1.3"/>
<path d="M604.4 483.0h1.4M616.2 483.0h1.4M611.0 476.4v1.4M611.0 488.2v1.4" stroke="#0072b2" stroke-width="1" fill="none"/><circle cx="611.0" cy="483.0" r="5.0" fill="none" stroke="#0072b2" stroke-width="1.3"/>
<path d="M606.4 483.7h1.4M618.2 483.7h1.4M613.0 477.1v1.4M613.0 488.9v1.4" stroke="#0072b2" stroke-width="1" fill="none"/><circle cx="613.0" cy="483.7" r="5.0" fill="none" stroke="#0072b2" stroke-width="1.3"/>
<path d="M611.2 484.7h1.4M623.0 484.7h1.4M617.8 478.1v1.4M617.8 489.9v1.4" stroke="#0072b2" stroke-width="1" fill="none"/><circle cx="617.8" cy="484.7" r="5.0" fill="none" stroke="#0072b2" stroke-width="1.3"/>
<path d="M643.7 484.7h1.4M655.5 484.7h1.4M650.3 478.1v1.4M650.3 489.9v1.4" stroke="#0072b2" stroke-width="1" fill="none"/><circle cx="650.3" cy="484.7" r="5.0" fill="none" stroke="#0072b2" stroke-width="1.3"/>
<path d="M649.2 485.3h1.4M661.0 485.3h1.4M655.8 478.7v1.4M655.8 490.5v1.4" stroke="#0072b2" stroke-width="1" fill="none"/><circle cx="655.8" cy="485.3" r="5.0" fill="none" stroke="#0072b2" stroke-width="1.3"/>
<path d="M685.9 487.5h1.4M697.7 487.5h1.4M692.5 480.9v1.4M692.5 492.7v1.4" stroke="#0072b2" stroke-width="1" fill="none"/><circle cx="692.5" cy="487.5" r="5.0" fill="none" stroke="#0072b2" stroke-width="1.3"/>
<path d="M718.9 491.3h1.4M730.7 491.3h1.4M725.5 484.7v1.4M725.5 496.5v1.4" stroke="#0072b2" stroke-width="1" fill="none"/><circle cx="725.5" cy="491.3" r="5.0" fill="none" stroke="#0072b2" stroke-width="1.3"/>
<path d="M755.1 482.0h1.4M766.9 482.0h1.4M761.7 475.4v1.4M761.7 487.2v1.4" stroke="#0072b2" stroke-width="1" fill="none"/><circle cx="761.7" cy="482.0" r="5.0" fill="none" stroke="#0072b2" stroke-width="1.3"/>
<path d="M760.1 485.0h1.4M771.9 485.0h1.4M766.7 478.4v1.4M766.7 490.2v1.4" stroke="#0072b2" stroke-width="1" fill="none"/><circle cx="766.7" cy="485.0" r="5.0" fill="none" stroke="#0072b2" stroke-width="1.3"/>
<path d="M681.9 303.5h1.4M693.7 303.5h1.4M688.5 296.9v1.4M688.5 308.7v1.4" stroke="#0072b2" stroke-width="1" fill="none"/><circle cx="688.5" cy="303.5" r="5.0" fill="none" stroke="#0072b2" stroke-width="1.3"/>
<path d="M830.1 480.0h1.4M841.9 480.0h1.4M836.7 473.4v1.4M836.7 485.2v1.4" stroke="#0072b2" stroke-width="1" fill="none"/><circle cx="836.7" cy="480.0" r="5.0" fill="none" stroke="#0072b2" stroke-width="1.3"/>
<path d="M835.4 482.5h1.4M847.2 482.5h1.4M842.0 475.9v1.4M842.0 487.7v1.4" stroke="#0072b2" stroke-width="1" fill="none"/><circle cx="842.0" cy="482.5" r="5.0" fill="none" stroke="#0072b2" stroke-width="1.3"/>
<path d="M867.9 480.8h1.4M879.7 480.8h1.4M874.5 474.2v1.4M874.5 486.0v1.4" stroke="#0072b2" stroke-width="1" fill="none"/><circle cx="874.5" cy="480.8" r="5.0" fill="none" stroke="#0072b2" stroke-width="1.3"/>
<path d="M904.7 485.3h1.4M916.5 485.3h1.4M911.3 478.7v1.4M911.3 490.5v1.4" stroke="#0072b2" stroke-width="1" fill="none"/><circle cx="911.3" cy="485.3" r="5.0" fill="none" stroke="#0072b2" stroke-width="1.3"/>
<path d="M910.1 486.2h1.4M921.9 486.2h1.4M916.7 479.6v1.4M916.7 491.4v1.4" stroke="#0072b2" stroke-width="1" fill="none"/><circle cx="916.7" cy="486.2" r="5.0" fill="none" stroke="#0072b2" stroke-width="1.3"/>
<path d="M943.1 491.3h1.4M954.9 491.3h1.4M949.7 484.7v1.4M949.7 496.5v1.4" stroke="#0072b2" stroke-width="1" fill="none"/><circle cx="949.7" cy="491.3" r="5.0" fill="none" stroke="#0072b2" stroke-width="1.3"/>
<path d="M947.6 488.3h1.4M959.4 488.3h1.4M954.2 481.7v1.4M954.2 493.5v1.4" stroke="#0072b2" stroke-width="1" fill="none"/><circle cx="954.2" cy="488.3" r="5.0" fill="none" stroke="#0072b2" stroke-width="1.3"/>
<path d="M980.1 490.3h1.4M991.9 490.3h1.4M986.7 483.7v1.4M986.7 495.5v1.4" stroke="#0072b2" stroke-width="1" fill="none"/><circle cx="986.7" cy="490.3" r="5.0" fill="none" stroke="#0072b2" stroke-width="1.3"/>
<path d="M797.8 398.4h1.4M809.6 398.4h1.4M804.4 391.8v1.4M804.4 403.6v1.4" stroke="#0072b2" stroke-width="1" fill="none"/><circle cx="804.4" cy="398.4" r="5.0" fill="none" stroke="#0072b2" stroke-width="1.3"/>
<path d="M871.7 417.3h1.4M883.5 417.3h1.4M878.3 410.7v1.4M878.3 422.5v1.4" stroke="#0072b2" stroke-width="1" fill="none"/><circle cx="878.3" cy="417.3" r="5.0" fill="none" stroke="#0072b2" stroke-width="1.3"/>
<path d="M792.8 483.3h1.4M804.6 483.3h1.4M799.4 476.7v1.4M799.4 488.5v1.4" stroke="#0072b2" stroke-width="1" fill="none"/><circle cx="799.4" cy="483.3" r="5.0" fill="none" stroke="#0072b2" stroke-width="1.3"/>
<path d="M722.7 407.4h1.4M734.5 407.4h1.4M729.3 400.8v1.4M729.3 412.6v1.4" stroke="#0072b2" stroke-width="1" fill="none"/><circle cx="729.3" cy="407.4" r="5.0" fill="none" stroke="#0072b2" stroke-width="1.3"/>
<path d="M939.9 185.5h1.4M951.7 185.5h1.4M946.5 178.9v1.4M946.5 190.7v1.4" stroke="#0072b2" stroke-width="1" fill="none"/><circle cx="946.5" cy="185.5" r="5.0" fill="none" stroke="#0072b2" stroke-width="1.3"/>
<path d="M89.4 519.0h1.4M101.2 519.0h1.4M96.0 512.4v1.4M96.0 524.2v1.4" stroke="#e51e10" stroke-width="1" fill="none"/><circle cx="96.0" cy="519.0" r="5.6" fill="#e51e10"/>
<path d="M121.9 517.0h1.4M133.7 517.0h1.4M128.5 510.4v1.4M128.5 522.2v1.4" stroke="#e51e10" stroke-width="1" fill="none"/><circle cx="128.5" cy="517.0" r="5.6" fill="#e51e10"/>
<path d="M163.9 517.0h1.4M175.7 517.0h1.4M170.5 510.4v1.4M170.5 522.2v1.4" stroke="#e51e10" stroke-width="1" fill="none"/><circle cx="170.5" cy="517.0" r="5.6" fill="#e51e10"/>
<path d="M196.9 517.5h1.4M208.7 517.5h1.4M203.5 510.9v1.4M203.5 522.7v1.4" stroke="#e51e10" stroke-width="1" fill="none"/><circle cx="203.5" cy="517.5" r="5.6" fill="#e51e10"/>
<path d="M200.9 517.5h1.4M212.7 517.5h1.4M207.5 510.9v1.4M207.5 522.7v1.4" stroke="#e51e10" stroke-width="1" fill="none"/><circle cx="207.5" cy="517.5" r="5.6" fill="#e51e10"/>
<path d="M234.4 517.0h1.4M246.2 517.0h1.4M241.0 510.4v1.4M241.0 522.2v1.4" stroke="#e51e10" stroke-width="1" fill="none"/><circle cx="241.0" cy="517.0" r="5.6" fill="#e51e10"/>
<path d="M237.9 517.5h1.4M249.7 517.5h1.4M244.5 510.9v1.4M244.5 522.7v1.4" stroke="#e51e10" stroke-width="1" fill="none"/><circle cx="244.5" cy="517.5" r="5.6" fill="#e51e10"/>
<path d="M270.9 519.0h1.4M282.7 519.0h1.4M277.5 512.4v1.4M277.5 524.2v1.4" stroke="#e51e10" stroke-width="1" fill="none"/><circle cx="277.5" cy="519.0" r="5.6" fill="#e51e10"/>
<path d="M276.2 517.3h1.4M288.0 517.3h1.4M282.8 510.7v1.4M282.8 522.5v1.4" stroke="#e51e10" stroke-width="1" fill="none"/><circle cx="282.8" cy="517.3" r="5.6" fill="#e51e10"/>
<path d="M308.7 519.3h1.4M320.5 519.3h1.4M315.3 512.7v1.4M315.3 524.5v1.4" stroke="#e51e10" stroke-width="1" fill="none"/><circle cx="315.3" cy="519.3" r="5.6" fill="#e51e10"/>
<path d="M313.1 517.3h1.4M324.9 517.3h1.4M319.7 510.7v1.4M319.7 522.5v1.4" stroke="#e51e10" stroke-width="1" fill="none"/><circle cx="319.7" cy="517.3" r="5.6" fill="#e51e10"/>
<path d="M345.4 517.0h1.4M357.2 517.0h1.4M352.0 510.4v1.4M352.0 522.2v1.4" stroke="#e51e10" stroke-width="1" fill="none"/><circle cx="352.0" cy="517.0" r="5.6" fill="#e51e10"/>
<path d="M350.4 517.0h1.4M362.2 517.0h1.4M357.0 510.4v1.4M357.0 522.2v1.4" stroke="#e51e10" stroke-width="1" fill="none"/><circle cx="357.0" cy="517.0" r="5.6" fill="#e51e10"/>
<path d="M383.1 517.0h1.4M394.9 517.0h1.4M389.7 510.4v1.4M389.7 522.2v1.4" stroke="#e51e10" stroke-width="1" fill="none"/><circle cx="389.7" cy="517.0" r="5.6" fill="#e51e10"/>
<path d="M388.1 519.0h1.4M399.9 519.0h1.4M394.7 512.4v1.4M394.7 524.2v1.4" stroke="#e51e10" stroke-width="1" fill="none"/><circle cx="394.7" cy="519.0" r="5.6" fill="#e51e10"/>
<path d="M420.9 517.0h1.4M432.7 517.0h1.4M427.5 510.4v1.4M427.5 522.2v1.4" stroke="#e51e10" stroke-width="1" fill="none"/><circle cx="427.5" cy="517.0" r="5.6" fill="#e51e10"/>
<path d="M424.9 518.0h1.4M436.7 518.0h1.4M431.5 511.4v1.4M431.5 523.2v1.4" stroke="#e51e10" stroke-width="1" fill="none"/><circle cx="431.5" cy="518.0" r="5.6" fill="#e51e10"/>
<path d="M461.9 517.0h1.4M473.7 517.0h1.4M468.5 510.4v1.4M468.5 522.2v1.4" stroke="#e51e10" stroke-width="1" fill="none"/><circle cx="468.5" cy="517.0" r="5.6" fill="#e51e10"/>
<path d="M494.9 517.0h1.4M506.7 517.0h1.4M501.5 510.4v1.4M501.5 522.2v1.4" stroke="#e51e10" stroke-width="1" fill="none"/><circle cx="501.5" cy="517.0" r="5.6" fill="#e51e10"/>
<path d="M498.9 518.2h1.4M510.7 518.2h1.4M505.5 511.6v1.4M505.5 523.4v1.4" stroke="#e51e10" stroke-width="1" fill="none"/><circle cx="505.5" cy="518.2" r="5.6" fill="#e51e10"/>
<path d="M531.4 517.3h1.4M543.2 517.3h1.4M538.0 510.7v1.4M538.0 522.5v1.4" stroke="#e51e10" stroke-width="1" fill="none"/><circle cx="538.0" cy="517.3" r="5.6" fill="#e51e10"/>
<path d="M536.4 518.0h1.4M548.2 518.0h1.4M543.0 511.4v1.4M543.0 523.2v1.4" stroke="#e51e10" stroke-width="1" fill="none"/><circle cx="543.0" cy="518.0" r="5.6" fill="#e51e10"/>
<path d="M569.9 517.5h1.4M581.7 517.5h1.4M576.5 510.9v1.4M576.5 522.7v1.4" stroke="#e51e10" stroke-width="1" fill="none"/><circle cx="576.5" cy="517.5" r="5.6" fill="#e51e10"/>
<path d="M574.1 513.3h1.4M585.9 513.3h1.4M580.7 506.7v1.4M580.7 518.5v1.4" stroke="#e51e10" stroke-width="1" fill="none"/><circle cx="580.7" cy="513.3" r="5.6" fill="#e51e10"/>
<path d="M606.4 517.3h1.4M618.2 517.3h1.4M613.0 510.7v1.4M613.0 522.5v1.4" stroke="#e51e10" stroke-width="1" fill="none"/><circle cx="613.0" cy="517.3" r="5.6" fill="#e51e10"/>
<path d="M611.4 518.0h1.4M623.2 518.0h1.4M618.0 511.4v1.4M618.0 523.2v1.4" stroke="#e51e10" stroke-width="1" fill="none"/><circle cx="618.0" cy="518.0" r="5.6" fill="#e51e10"/>
<path d="M643.9 519.0h1.4M655.7 519.0h1.4M650.5 512.4v1.4M650.5 524.2v1.4" stroke="#e51e10" stroke-width="1" fill="none"/><circle cx="650.5" cy="519.0" r="5.6" fill="#e51e10"/>
<path d="M649.4 517.5h1.4M661.2 517.5h1.4M656.0 510.9v1.4M656.0 522.7v1.4" stroke="#e51e10" stroke-width="1" fill="none"/><circle cx="656.0" cy="517.5" r="5.6" fill="#e51e10"/>
<path d="M682.4 517.3h1.4M694.2 517.3h1.4M689.0 510.7v1.4M689.0 522.5v1.4" stroke="#e51e10" stroke-width="1" fill="none"/><circle cx="689.0" cy="517.3" r="5.6" fill="#e51e10"/>
<path d="M685.9 517.3h1.4M697.7 517.3h1.4M692.5 510.7v1.4M692.5 522.5v1.4" stroke="#e51e10" stroke-width="1" fill="none"/><circle cx="692.5" cy="517.3" r="5.6" fill="#e51e10"/>
<path d="M718.9 517.5h1.4M730.7 517.5h1.4M725.5 510.9v1.4M725.5 522.7v1.4" stroke="#e51e10" stroke-width="1" fill="none"/><circle cx="725.5" cy="517.5" r="5.6" fill="#e51e10"/>
<path d="M722.9 517.5h1.4M734.7 517.5h1.4M729.5 510.9v1.4M729.5 522.7v1.4" stroke="#e51e10" stroke-width="1" fill="none"/><circle cx="729.5" cy="517.5" r="5.6" fill="#e51e10"/>
<path d="M755.4 518.0h1.4M767.2 518.0h1.4M762.0 511.4v1.4M762.0 523.2v1.4" stroke="#e51e10" stroke-width="1" fill="none"/><circle cx="762.0" cy="518.0" r="5.6" fill="#e51e10"/>
<path d="M759.9 520.0h1.4M771.7 520.0h1.4M766.5 513.4v1.4M766.5 525.2v1.4" stroke="#e51e10" stroke-width="1" fill="none"/><circle cx="766.5" cy="520.0" r="5.6" fill="#e51e10"/>
<path d="M792.9 517.5h1.4M804.7 517.5h1.4M799.5 510.9v1.4M799.5 522.7v1.4" stroke="#e51e10" stroke-width="1" fill="none"/><circle cx="799.5" cy="517.5" r="5.6" fill="#e51e10"/>
<path d="M797.4 518.5h1.4M809.2 518.5h1.4M804.0 511.9v1.4M804.0 523.7v1.4" stroke="#e51e10" stroke-width="1" fill="none"/><circle cx="804.0" cy="518.5" r="5.6" fill="#e51e10"/>
<path d="M829.9 518.5h1.4M841.7 518.5h1.4M836.5 511.9v1.4M836.5 523.7v1.4" stroke="#e51e10" stroke-width="1" fill="none"/><circle cx="836.5" cy="518.5" r="5.6" fill="#e51e10"/>
<path d="M835.4 516.5h1.4M847.2 516.5h1.4M842.0 509.9v1.4M842.0 521.7v1.4" stroke="#e51e10" stroke-width="1" fill="none"/><circle cx="842.0" cy="516.5" r="5.6" fill="#e51e10"/>
<path d="M868.1 518.3h1.4M879.9 518.3h1.4M874.7 511.7v1.4M874.7 523.5v1.4" stroke="#e51e10" stroke-width="1" fill="none"/><circle cx="874.7" cy="518.3" r="5.6" fill="#e51e10"/>
<path d="M872.1 518.5h1.4M883.9 518.5h1.4M878.7 511.9v1.4M878.7 523.7v1.4" stroke="#e51e10" stroke-width="1" fill="none"/><circle cx="878.7" cy="518.5" r="5.6" fill="#e51e10"/>
<path d="M904.9 518.0h1.4M916.7 518.0h1.4M911.5 511.4v1.4M911.5 523.2v1.4" stroke="#e51e10" stroke-width="1" fill="none"/><circle cx="911.5" cy="518.0" r="5.6" fill="#e51e10"/>
<path d="M909.9 518.0h1.4M921.7 518.0h1.4M916.5 511.4v1.4M916.5 523.2v1.4" stroke="#e51e10" stroke-width="1" fill="none"/><circle cx="916.5" cy="518.0" r="5.6" fill="#e51e10"/>
<path d="M942.9 518.0h1.4M954.7 518.0h1.4M949.5 511.4v1.4M949.5 523.2v1.4" stroke="#e51e10" stroke-width="1" fill="none"/><circle cx="949.5" cy="518.0" r="5.6" fill="#e51e10"/>
<path d="M947.4 518.0h1.4M959.2 518.0h1.4M954.0 511.4v1.4M954.0 523.2v1.4" stroke="#e51e10" stroke-width="1" fill="none"/><circle cx="954.0" cy="518.0" r="5.6" fill="#e51e10"/>
<path d="M980.1 518.0h1.4M991.9 518.0h1.4M986.7 511.4v1.4M986.7 523.2v1.4" stroke="#e51e10" stroke-width="1" fill="none"/><circle cx="986.7" cy="518.0" r="5.6" fill="#e51e10"/>
<path d="M457.7 308.3h1.4M469.5 308.3h1.4M464.3 301.7v1.4M464.3 313.5v1.4" stroke="#e51e10" stroke-width="1" fill="none"/><circle cx="464.3" cy="308.3" r="5.6" fill="#e51e10"/>
<path d="M939.9 204.5h1.4M951.7 204.5h1.4M946.5 197.9v1.4M946.5 209.7v1.4" stroke="#e51e10" stroke-width="1" fill="none"/><circle cx="946.5" cy="204.5" r="5.6" fill="#e51e10"/>
</g>
<path d="M499.5 444.5L491.5 456.5H507.5ZM526.5 444.5L518.5 456.5H534.5ZM527.5 444.5L519.5 456.5H535.5ZM580.5 444.5L572.5 456.5H588.5ZM606.5 444.5L598.5 456.5H614.5ZM665.5 444.5L657.5 456.5H673.5ZM743.3 444.5L735.3 456.5H751.3ZM795.8 444.5L787.8 456.5H803.8ZM798.3 444.5L790.3 456.5H806.3ZM805.4 444.5L797.4 456.5H813.4ZM806.6 444.5L798.6 456.5H814.6ZM809.5 444.5L801.5 456.5H817.5ZM812.5 444.5L804.5 456.5H820.5ZM815.0 444.5L807.0 456.5H823.0ZM816.8 444.5L808.8 456.5H824.8ZM831.5 444.5L823.5 456.5H839.5ZM844.5 444.5L836.5 456.5H852.5ZM848.6 444.5L840.6 456.5H856.6ZM851.4 444.5L843.4 456.5H859.4ZM863.0 444.5L855.0 456.5H871.0ZM865.0 444.5L857.0 456.5H873.0ZM867.8 444.5L859.8 456.5H875.8ZM870.6 444.5L862.6 456.5H878.6ZM881.6 444.5L873.6 456.5H889.6ZM883.0 444.5L875.0 456.5H891.0ZM885.7 444.5L877.7 456.5H893.7ZM892.5 444.5L884.5 456.5H900.5ZM908.5 444.5L900.5 456.5H916.5ZM909.5 444.5L901.5 456.5H917.5ZM169.5 444.5L161.5 456.5H177.5ZM946.5 215.5L938.5 227.5H954.5Z" fill="none" stroke="#000" stroke-width="1" shape-rendering="crispEdges"/>
<path d="M163 413.5h13M169.5 407v13M940 242.5h13M946.5 236v13" stroke="#9400d3" stroke-width="1" shape-rendering="crispEdges"/>
<rect x="94.5" y="74.5" width="895.0" height="448.0" shape-rendering="crispEdges" fill="none" stroke="#000" stroke-width="1"/>
</svg>
</body></html>
